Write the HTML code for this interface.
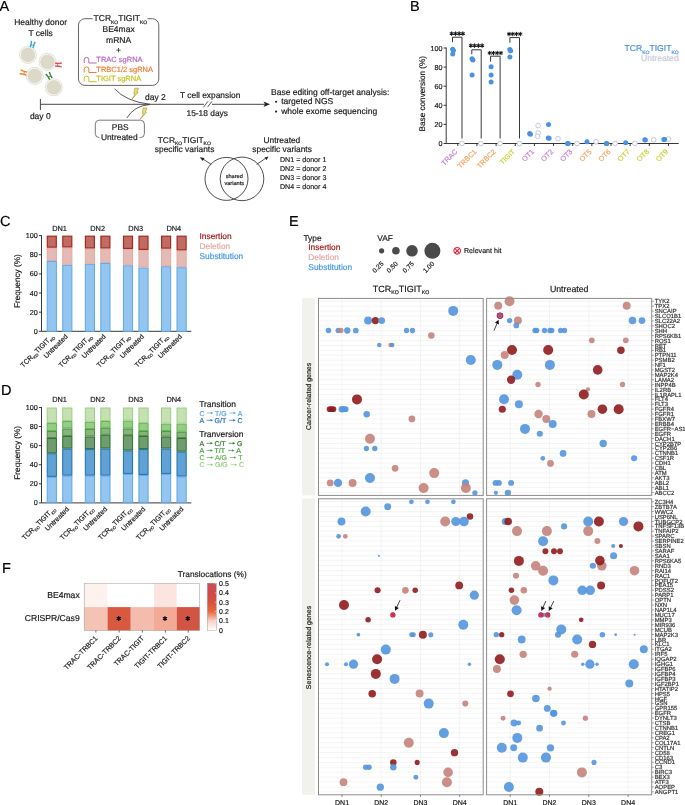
<!DOCTYPE html><html><head><meta charset="utf-8"><style>html,body{margin:0;padding:0;background:#fff;}svg{display:block;text-rendering:geometricPrecision;will-change:transform;}</style></head><body>
<svg width="685" height="805" viewBox="0 0 685 805" font-family='"Liberation Sans", sans-serif'>
<rect width="685" height="805" fill="#fff"/>
<text x="-0.60" y="10.80" font-size="14.5" fill="#000" stroke="#000" stroke-width="0.18" text-anchor="start" >A</text>
<text x="40.60" y="25.10" font-size="8.5" fill="#222" stroke="#222" stroke-width="0.18" text-anchor="middle" >Healthy donor</text>
<text x="40.60" y="35.60" font-size="8.5" fill="#222" stroke="#222" stroke-width="0.18" text-anchor="middle" >T cells</text>
<circle cx="27.95" cy="54.9" r="8.5" fill="#fcfcfa" stroke="#e3e3dc" stroke-width="1.1"/>
<circle cx="27.95" cy="54.9" r="6.9" fill="#dcd9c8" stroke="#cfcbbb" stroke-width="0.5"/>
<circle cx="47.5" cy="61.9" r="8.5" fill="#fcfcfa" stroke="#e3e3dc" stroke-width="1.1"/>
<circle cx="47.5" cy="61.9" r="6.9" fill="#dcd9c8" stroke="#cfcbbb" stroke-width="0.5"/>
<circle cx="34.8" cy="75.9" r="8.5" fill="#fcfcfa" stroke="#e3e3dc" stroke-width="1.1"/>
<circle cx="34.8" cy="75.9" r="6.9" fill="#dcd9c8" stroke="#cfcbbb" stroke-width="0.5"/>
<circle cx="53.8" cy="87.3" r="8.5" fill="#fcfcfa" stroke="#e3e3dc" stroke-width="1.1"/>
<circle cx="53.8" cy="87.3" r="6.9" fill="#dcd9c8" stroke="#cfcbbb" stroke-width="0.5"/>
<g transform="translate(32.5,44.5) rotate(15)" stroke="#3ba9d0" fill="none" stroke-linecap="butt"><path d="M-1.45,3.3 L-1.45,-0.6 L-2.0,-3.4 M1.45,3.3 L1.45,-0.6 L2.0,-3.4" stroke-width="1.45"/><path d="M-1.4,0.7 L1.4,0.7" stroke-width="0.8"/></g>
<g transform="translate(58.4,64.8) rotate(92)" stroke="#e2494c" fill="none" stroke-linecap="butt"><path d="M-1.45,3.3 L-1.45,-0.6 L-2.0,-3.4 M1.45,3.3 L1.45,-0.6 L2.0,-3.4" stroke-width="1.45"/><path d="M-1.4,0.7 L1.4,0.7" stroke-width="0.8"/></g>
<g transform="translate(23.5,72.7) rotate(-75)" stroke="#f0842a" fill="none" stroke-linecap="butt"><path d="M-1.45,3.3 L-1.45,-0.6 L-2.0,-3.4 M1.45,3.3 L1.45,-0.6 L2.0,-3.4" stroke-width="1.45"/><path d="M-1.4,0.7 L1.4,0.7" stroke-width="0.8"/></g>
<g transform="translate(49.3,76.0) rotate(-30)" stroke="#3d8535" fill="none" stroke-linecap="butt"><path d="M-1.45,3.3 L-1.45,-0.6 L-2.0,-3.4 M1.45,3.3 L1.45,-0.6 L2.0,-3.4" stroke-width="1.45"/><path d="M-1.4,0.7 L1.4,0.7" stroke-width="0.8"/></g>
<rect x="78.5" y="18.7" width="80.3" height="66.7" rx="6.5" fill="none" stroke="#555" stroke-width="0.9"/>
<rect x="92.6" y="12" width="55" height="10" fill="#fff"/>
<text x="120.4" y="21.2" font-size="8.5" fill="#1a1a1a" text-anchor="middle" stroke="#1a1a1a" stroke-width="0.18">TCR<tspan font-size="5.0" dy="2.3">KO</tspan><tspan dy="-2.3">TIGIT</tspan><tspan font-size="5.0" dy="2.3">KO</tspan></text>
<text x="118.60" y="32.40" font-size="8.5" fill="#1a1a1a" stroke="#1a1a1a" stroke-width="0.18" text-anchor="middle" >BE4max</text>
<text x="118.60" y="42.60" font-size="8.5" fill="#1a1a1a" stroke="#1a1a1a" stroke-width="0.18" text-anchor="middle" >mRNA</text>
<text x="118.60" y="52.60" font-size="8.5" fill="#1a1a1a" stroke="#1a1a1a" stroke-width="0.18" text-anchor="middle" >+</text>
<path d="M84.2,63.0 L84.2,59.7 Q84.2,57.4 86.5,57.4 Q88.8,57.4 88.8,59.7 L88.8,63.0 L96.6,63.0" fill="none" stroke="#b565c4" stroke-width="1"/>
<text x="96.30" y="62.00" font-size="7.5" fill="#b565c4" stroke="#b565c4" stroke-width="0.18" text-anchor="start" >TRAC sgRNA</text>
<path d="M84.2,72.5 L84.2,69.2 Q84.2,66.9 86.5,66.9 Q88.8,66.9 88.8,69.2 L88.8,72.5 L96.6,72.5" fill="none" stroke="#f07d2e" stroke-width="1"/>
<text x="96.30" y="71.50" font-size="7.5" fill="#f07d2e" stroke="#f07d2e" stroke-width="0.18" text-anchor="start" >TRBC1/2 sgRNA</text>
<path d="M84.2,81.7 L84.2,78.4 Q84.2,76.1 86.5,76.1 Q88.8,76.1 88.8,78.4 L88.8,81.7 L96.6,81.7" fill="none" stroke="#c4c41c" stroke-width="1"/>
<text x="96.30" y="80.70" font-size="7.5" fill="#c4c41c" stroke="#c4c41c" stroke-width="0.18" text-anchor="start" >TIGIT sgRNA</text>
<line x1="40.4" y1="104.3" x2="267" y2="104.3" stroke="#333" stroke-width="0.9"/>
<path d="M263.5,101.6 L270,104.3 L263.5,107 L265,104.3 Z" fill="#222"/>
<line x1="40.4" y1="99" x2="40.4" y2="110" stroke="#333" stroke-width="0.9"/>
<rect x="204" y="101" width="8" height="6.5" fill="#fff"/>
<line x1="203.5" y1="107.2" x2="208" y2="101.3" stroke="#333" stroke-width="0.8"/>
<line x1="207.5" y1="107.2" x2="212" y2="101.3" stroke="#333" stroke-width="0.8"/>
<path d="M114.6,88.8 Q126,101.5 150,104.3" fill="none" stroke="#333" stroke-width="0.8"/>
<path d="M126.9,118 Q134,106 149,104.6" fill="none" stroke="#333" stroke-width="0.8"/>
<path transform="translate(136.0,88.2)" d="M-1.3,0 L2.5,0 L0.9,3.9 L2.1,4.2 L-4.3,11.3 L-0.9,5.7 L-2.2,5.4 Z" fill="#eee06a" stroke="#7e7420" stroke-width="0.45" stroke-linejoin="round"/>
<path transform="translate(144.5,108.0)" d="M-1.3,0 L2.5,0 L0.9,3.9 L2.1,4.2 L-4.3,11.3 L-0.9,5.7 L-2.2,5.4 Z" fill="#eee06a" stroke="#7e7420" stroke-width="0.45" stroke-linejoin="round"/>
<text x="145.00" y="99.90" font-size="8.5" fill="#1a1a1a" stroke="#1a1a1a" stroke-width="0.18" text-anchor="start" >day 2</text>
<text x="29.90" y="119.00" font-size="8.5" fill="#1a1a1a" stroke="#1a1a1a" stroke-width="0.18" text-anchor="start" >day 0</text>
<text x="180.00" y="97.80" font-size="8.4" fill="#1a1a1a" stroke="#1a1a1a" stroke-width="0.18" text-anchor="start" >T cell expansion</text>
<text x="186.50" y="115.60" font-size="8.4" fill="#1a1a1a" stroke="#1a1a1a" stroke-width="0.18" text-anchor="start" >15-18 days</text>
<rect x="95.3" y="120.2" width="49.1" height="17.4" rx="4" fill="none" stroke="#555" stroke-width="0.8"/>
<rect x="99.5" y="134" width="40" height="7" fill="#fff"/>
<text x="120.20" y="129.50" font-size="8.4" fill="#1a1a1a" stroke="#1a1a1a" stroke-width="0.18" text-anchor="middle" >PBS</text>
<text x="119.30" y="140.20" font-size="8.4" fill="#1a1a1a" stroke="#1a1a1a" stroke-width="0.18" text-anchor="middle" >Untreated</text>
<text x="271.00" y="94.60" font-size="8.5" fill="#1a1a1a" stroke="#1a1a1a" stroke-width="0.18" text-anchor="start" >Base editing off-target analysis:</text>
<circle cx="276.1" cy="101.7" r="1.05" fill="#1a1a1a"/>
<text x="281.20" y="104.20" font-size="8.5" fill="#1a1a1a" stroke="#1a1a1a" stroke-width="0.18" text-anchor="start" >targeted NGS</text>
<circle cx="276.1" cy="111.6" r="1.05" fill="#1a1a1a"/>
<text x="281.20" y="114.20" font-size="8.5" fill="#1a1a1a" stroke="#1a1a1a" stroke-width="0.18" text-anchor="start" >whole exome sequencing</text>
<circle cx="226.5" cy="178.9" r="21.5" fill="none" stroke="#222" stroke-width="0.8"/>
<circle cx="242" cy="178.9" r="21.8" fill="none" stroke="#222" stroke-width="0.8"/>
<text x="234.20" y="178.30" font-size="5.6" fill="#1a1a1a" stroke="#1a1a1a" stroke-width="0.18" text-anchor="middle" >shared</text>
<text x="234.20" y="185.30" font-size="5.6" fill="#1a1a1a" stroke="#1a1a1a" stroke-width="0.18" text-anchor="middle" >variants</text>
<line x1="211.3" y1="164.4" x2="202.5" y2="158.8" stroke="#222" stroke-width="0.8"/>
<path d="M199.8,157.2 L204.5,157.9 L202.6,160.9 Z" fill="#222"/>
<line x1="256.6" y1="164.4" x2="265.8" y2="158.2" stroke="#222" stroke-width="0.8"/>
<path d="M268.4,156.5 L266.6,160.3 L264.6,157.4 Z" fill="#222"/>
<text x="184.3" y="142.9" font-size="8.4" fill="#1a1a1a" text-anchor="middle" stroke="#1a1a1a" stroke-width="0.18">TCR<tspan font-size="5.0" dy="2.3">KO</tspan><tspan dy="-2.3">TIGIT</tspan><tspan font-size="5.0" dy="2.3">KO</tspan></text>
<text x="184.60" y="152.10" font-size="8.4" fill="#1a1a1a" stroke="#1a1a1a" stroke-width="0.18" text-anchor="middle" >specific variants</text>
<text x="281.90" y="142.90" font-size="8.4" fill="#1a1a1a" stroke="#1a1a1a" stroke-width="0.18" text-anchor="middle" >Untreated</text>
<text x="282.10" y="152.10" font-size="8.4" fill="#1a1a1a" stroke="#1a1a1a" stroke-width="0.18" text-anchor="middle" >specific variants</text>
<text x="280.00" y="161.80" font-size="7.1" fill="#1a1a1a" stroke="#1a1a1a" stroke-width="0.18" text-anchor="start" >DN1 = donor 1</text>
<text x="280.00" y="170.70" font-size="7.1" fill="#1a1a1a" stroke="#1a1a1a" stroke-width="0.18" text-anchor="start" >DN2 = donor 2</text>
<text x="280.00" y="179.60" font-size="7.1" fill="#1a1a1a" stroke="#1a1a1a" stroke-width="0.18" text-anchor="start" >DN3 = donor 3</text>
<text x="280.00" y="188.50" font-size="7.1" fill="#1a1a1a" stroke="#1a1a1a" stroke-width="0.18" text-anchor="start" >DN4 = donor 4</text>
<text x="409.90" y="10.50" font-size="14.5" fill="#000" stroke="#000" stroke-width="0.18" text-anchor="start" >B</text>
<line x1="446.2" y1="47.5" x2="446.2" y2="143.5" stroke="#222" stroke-width="0.9"/>
<line x1="446.2" y1="143.5" x2="678.7" y2="143.5" stroke="#222" stroke-width="0.9"/>
<line x1="443.6" y1="143.50" x2="446.2" y2="143.50" stroke="#222" stroke-width="0.9"/>
<text x="442.60" y="146.05" font-size="7.2" fill="#1a1a1a" stroke="#1a1a1a" stroke-width="0.18" text-anchor="end" >0</text>
<line x1="443.6" y1="124.40" x2="446.2" y2="124.40" stroke="#222" stroke-width="0.9"/>
<text x="442.60" y="126.95" font-size="7.2" fill="#1a1a1a" stroke="#1a1a1a" stroke-width="0.18" text-anchor="end" >20</text>
<line x1="443.6" y1="105.30" x2="446.2" y2="105.30" stroke="#222" stroke-width="0.9"/>
<text x="442.60" y="107.85" font-size="7.2" fill="#1a1a1a" stroke="#1a1a1a" stroke-width="0.18" text-anchor="end" >40</text>
<line x1="443.6" y1="86.20" x2="446.2" y2="86.20" stroke="#222" stroke-width="0.9"/>
<text x="442.60" y="88.75" font-size="7.2" fill="#1a1a1a" stroke="#1a1a1a" stroke-width="0.18" text-anchor="end" >60</text>
<line x1="443.6" y1="67.10" x2="446.2" y2="67.10" stroke="#222" stroke-width="0.9"/>
<text x="442.60" y="69.65" font-size="7.2" fill="#1a1a1a" stroke="#1a1a1a" stroke-width="0.18" text-anchor="end" >80</text>
<line x1="443.6" y1="48.00" x2="446.2" y2="48.00" stroke="#222" stroke-width="0.9"/>
<text x="442.60" y="50.55" font-size="7.2" fill="#1a1a1a" stroke="#1a1a1a" stroke-width="0.18" text-anchor="end" >100</text>
<line x1="457.80" y1="143.5" x2="457.80" y2="146" stroke="#222" stroke-width="0.9"/>
<text transform="translate(458.00,152.1) rotate(-45)" font-size="7.2" fill="#c27fd0" text-anchor="end" stroke="#c27fd0" stroke-width="0.18">TRAC</text>
<line x1="476.95" y1="143.5" x2="476.95" y2="146" stroke="#222" stroke-width="0.9"/>
<text transform="translate(477.15,152.1) rotate(-45)" font-size="7.2" fill="#f5a35e" text-anchor="end" stroke="#f5a35e" stroke-width="0.18">TRBC1</text>
<line x1="496.10" y1="143.5" x2="496.10" y2="146" stroke="#222" stroke-width="0.9"/>
<text transform="translate(496.30,152.1) rotate(-45)" font-size="7.2" fill="#f5a35e" text-anchor="end" stroke="#f5a35e" stroke-width="0.18">TRBC2</text>
<line x1="515.25" y1="143.5" x2="515.25" y2="146" stroke="#222" stroke-width="0.9"/>
<text transform="translate(515.45,152.1) rotate(-45)" font-size="7.2" fill="#c9d031" text-anchor="end" stroke="#c9d031" stroke-width="0.18">TIGIT</text>
<line x1="534.40" y1="143.5" x2="534.40" y2="146" stroke="#222" stroke-width="0.9"/>
<text transform="translate(534.60,152.1) rotate(-45)" font-size="7.2" fill="#c27fd0" text-anchor="end" stroke="#c27fd0" stroke-width="0.18">OT1</text>
<line x1="553.55" y1="143.5" x2="553.55" y2="146" stroke="#222" stroke-width="0.9"/>
<text transform="translate(553.75,152.1) rotate(-45)" font-size="7.2" fill="#c27fd0" text-anchor="end" stroke="#c27fd0" stroke-width="0.18">OT2</text>
<line x1="572.70" y1="143.5" x2="572.70" y2="146" stroke="#222" stroke-width="0.9"/>
<text transform="translate(572.90,152.1) rotate(-45)" font-size="7.2" fill="#c27fd0" text-anchor="end" stroke="#c27fd0" stroke-width="0.18">OT3</text>
<line x1="591.85" y1="143.5" x2="591.85" y2="146" stroke="#222" stroke-width="0.9"/>
<text transform="translate(592.05,152.1) rotate(-45)" font-size="7.2" fill="#f5a35e" text-anchor="end" stroke="#f5a35e" stroke-width="0.18">OT5</text>
<line x1="611.00" y1="143.5" x2="611.00" y2="146" stroke="#222" stroke-width="0.9"/>
<text transform="translate(611.20,152.1) rotate(-45)" font-size="7.2" fill="#f5a35e" text-anchor="end" stroke="#f5a35e" stroke-width="0.18">OT6</text>
<line x1="630.15" y1="143.5" x2="630.15" y2="146" stroke="#222" stroke-width="0.9"/>
<text transform="translate(630.35,152.1) rotate(-45)" font-size="7.2" fill="#c9d031" text-anchor="end" stroke="#c9d031" stroke-width="0.18">OT7</text>
<line x1="649.30" y1="143.5" x2="649.30" y2="146" stroke="#222" stroke-width="0.9"/>
<text transform="translate(649.50,152.1) rotate(-45)" font-size="7.2" fill="#c9d031" text-anchor="end" stroke="#c9d031" stroke-width="0.18">OT8</text>
<line x1="668.45" y1="143.5" x2="668.45" y2="146" stroke="#222" stroke-width="0.9"/>
<text transform="translate(668.65,152.1) rotate(-45)" font-size="7.2" fill="#c9d031" text-anchor="end" stroke="#c9d031" stroke-width="0.18">OT9</text>
<text transform="translate(425,93.7) rotate(-90)" font-size="8.2" fill="#1a1a1a" text-anchor="middle" stroke="#1a1a1a" stroke-width="0.18">Base conversion (%)</text>
<path d="M452.5,42.2 L452.5,37.2 L462.0,37.2 L462.0,138.5" fill="none" stroke="#222" stroke-width="0.9"/>
<g transform="translate(451.62,33.60)" stroke="#111" stroke-width="1.05" stroke-linecap="round"><path d="M0,-1.75 L0,1.75 M-1.52,-0.88 L1.52,0.88 M-1.52,0.88 L1.52,-0.88"/></g>
<g transform="translate(455.38,33.60)" stroke="#111" stroke-width="1.05" stroke-linecap="round"><path d="M0,-1.75 L0,1.75 M-1.52,-0.88 L1.52,0.88 M-1.52,0.88 L1.52,-0.88"/></g>
<g transform="translate(459.12,33.60)" stroke="#111" stroke-width="1.05" stroke-linecap="round"><path d="M0,-1.75 L0,1.75 M-1.52,-0.88 L1.52,0.88 M-1.52,0.88 L1.52,-0.88"/></g>
<g transform="translate(462.88,33.60)" stroke="#111" stroke-width="1.05" stroke-linecap="round"><path d="M0,-1.75 L0,1.75 M-1.52,-0.88 L1.52,0.88 M-1.52,0.88 L1.52,-0.88"/></g>
<path d="M471.8,54.2 L471.8,49.8 L481.2,49.8 L481.2,138.5" fill="none" stroke="#222" stroke-width="0.9"/>
<g transform="translate(470.88,45.60)" stroke="#111" stroke-width="1.05" stroke-linecap="round"><path d="M0,-1.75 L0,1.75 M-1.52,-0.88 L1.52,0.88 M-1.52,0.88 L1.52,-0.88"/></g>
<g transform="translate(474.62,45.60)" stroke="#111" stroke-width="1.05" stroke-linecap="round"><path d="M0,-1.75 L0,1.75 M-1.52,-0.88 L1.52,0.88 M-1.52,0.88 L1.52,-0.88"/></g>
<g transform="translate(478.38,45.60)" stroke="#111" stroke-width="1.05" stroke-linecap="round"><path d="M0,-1.75 L0,1.75 M-1.52,-0.88 L1.52,0.88 M-1.52,0.88 L1.52,-0.88"/></g>
<g transform="translate(482.12,45.60)" stroke="#111" stroke-width="1.05" stroke-linecap="round"><path d="M0,-1.75 L0,1.75 M-1.52,-0.88 L1.52,0.88 M-1.52,0.88 L1.52,-0.88"/></g>
<path d="M490.6,61.7 L490.6,56.2 L500.1,56.2 L500.1,138.5" fill="none" stroke="#222" stroke-width="0.9"/>
<g transform="translate(489.73,53.00)" stroke="#111" stroke-width="1.05" stroke-linecap="round"><path d="M0,-1.75 L0,1.75 M-1.52,-0.88 L1.52,0.88 M-1.52,0.88 L1.52,-0.88"/></g>
<g transform="translate(493.48,53.00)" stroke="#111" stroke-width="1.05" stroke-linecap="round"><path d="M0,-1.75 L0,1.75 M-1.52,-0.88 L1.52,0.88 M-1.52,0.88 L1.52,-0.88"/></g>
<g transform="translate(497.23,53.00)" stroke="#111" stroke-width="1.05" stroke-linecap="round"><path d="M0,-1.75 L0,1.75 M-1.52,-0.88 L1.52,0.88 M-1.52,0.88 L1.52,-0.88"/></g>
<g transform="translate(500.98,53.00)" stroke="#111" stroke-width="1.05" stroke-linecap="round"><path d="M0,-1.75 L0,1.75 M-1.52,-0.88 L1.52,0.88 M-1.52,0.88 L1.52,-0.88"/></g>
<path d="M509.9,42.7 L509.9,37.6 L519.5,37.6 L519.5,138.5" fill="none" stroke="#222" stroke-width="0.9"/>
<g transform="translate(509.08,34.00)" stroke="#111" stroke-width="1.05" stroke-linecap="round"><path d="M0,-1.75 L0,1.75 M-1.52,-0.88 L1.52,0.88 M-1.52,0.88 L1.52,-0.88"/></g>
<g transform="translate(512.83,34.00)" stroke="#111" stroke-width="1.05" stroke-linecap="round"><path d="M0,-1.75 L0,1.75 M-1.52,-0.88 L1.52,0.88 M-1.52,0.88 L1.52,-0.88"/></g>
<g transform="translate(516.58,34.00)" stroke="#111" stroke-width="1.05" stroke-linecap="round"><path d="M0,-1.75 L0,1.75 M-1.52,-0.88 L1.52,0.88 M-1.52,0.88 L1.52,-0.88"/></g>
<g transform="translate(520.33,34.00)" stroke="#111" stroke-width="1.05" stroke-linecap="round"><path d="M0,-1.75 L0,1.75 M-1.52,-0.88 L1.52,0.88 M-1.52,0.88 L1.52,-0.88"/></g>
<circle cx="461.9" cy="143.5" r="2.35" fill="#fff" stroke="#c3c9dc" stroke-width="1"/>
<circle cx="480.9" cy="143.5" r="2.35" fill="#fff" stroke="#c3c9dc" stroke-width="1"/>
<circle cx="500.1" cy="143.5" r="2.35" fill="#fff" stroke="#c3c9dc" stroke-width="1"/>
<circle cx="519.5" cy="143.5" r="2.35" fill="#fff" stroke="#c3c9dc" stroke-width="1"/>
<circle cx="538.1" cy="125.6" r="2.35" fill="#fff" stroke="#c3c9dc" stroke-width="1"/>
<circle cx="538.1" cy="133.0" r="2.35" fill="#fff" stroke="#c3c9dc" stroke-width="1"/>
<circle cx="537.6" cy="136.3" r="2.35" fill="#fff" stroke="#c3c9dc" stroke-width="1"/>
<circle cx="558.0" cy="138.6" r="2.35" fill="#fff" stroke="#c3c9dc" stroke-width="1"/>
<circle cx="577.0" cy="143.5" r="2.35" fill="#fff" stroke="#c3c9dc" stroke-width="1"/>
<circle cx="596.1" cy="141.8" r="2.35" fill="#fff" stroke="#c3c9dc" stroke-width="1"/>
<circle cx="615.1" cy="143.5" r="2.35" fill="#fff" stroke="#c3c9dc" stroke-width="1"/>
<circle cx="634.8" cy="143.3" r="2.35" fill="#fff" stroke="#c3c9dc" stroke-width="1"/>
<circle cx="653.7" cy="139.7" r="2.35" fill="#fff" stroke="#c3c9dc" stroke-width="1"/>
<circle cx="668.4" cy="139.0" r="2.35" fill="#fff" stroke="#c3c9dc" stroke-width="1"/>
<circle cx="452.6" cy="49.3" r="2.5" fill="#4b91e1"/>
<circle cx="453.4" cy="50.6" r="2.5" fill="#4b91e1"/>
<circle cx="452.7" cy="54.0" r="2.5" fill="#4b91e1"/>
<circle cx="472.0" cy="58.8" r="2.5" fill="#4b91e1"/>
<circle cx="472.9" cy="59.9" r="2.5" fill="#4b91e1"/>
<circle cx="472.1" cy="74.9" r="2.5" fill="#4b91e1"/>
<circle cx="491.1" cy="66.8" r="2.5" fill="#4b91e1"/>
<circle cx="491.1" cy="75.0" r="2.5" fill="#4b91e1"/>
<circle cx="491.1" cy="82.1" r="2.5" fill="#4b91e1"/>
<circle cx="509.8" cy="49.4" r="2.5" fill="#4b91e1"/>
<circle cx="510.6" cy="50.8" r="2.5" fill="#4b91e1"/>
<circle cx="509.9" cy="57.0" r="2.5" fill="#4b91e1"/>
<circle cx="529.7" cy="133.4" r="2.5" fill="#4b91e1"/>
<circle cx="530.4" cy="134.3" r="2.5" fill="#4b91e1"/>
<circle cx="548.5" cy="124.6" r="2.5" fill="#4b91e1"/>
<circle cx="548.3" cy="137.9" r="2.5" fill="#4b91e1"/>
<circle cx="549.1" cy="138.3" r="2.5" fill="#4b91e1"/>
<circle cx="567.5" cy="143.4" r="2.5" fill="#4b91e1"/>
<circle cx="568.2" cy="143.4" r="2.5" fill="#4b91e1"/>
<circle cx="587.0" cy="141.8" r="2.5" fill="#4b91e1"/>
<circle cx="606.3" cy="143.4" r="2.5" fill="#4b91e1"/>
<circle cx="606.9" cy="143.4" r="2.5" fill="#4b91e1"/>
<circle cx="625.7" cy="142.8" r="2.5" fill="#4b91e1"/>
<circle cx="644.8" cy="139.7" r="2.5" fill="#4b91e1"/>
<circle cx="645.4" cy="139.9" r="2.5" fill="#4b91e1"/>
<circle cx="663.8" cy="139.4" r="2.5" fill="#4b91e1"/>
<circle cx="664.6" cy="139.6" r="2.5" fill="#4b91e1"/>
<text x="678.7" y="51.2" font-size="8.6" fill="#4a91e2" text-anchor="end" stroke="#4a91e2" stroke-width="0.18">TCR<tspan font-size="5.0" dy="2.3">KO</tspan><tspan dy="-2.3">TIGIT</tspan><tspan font-size="5.0" dy="2.3">KO</tspan></text>
<text x="678.70" y="61.30" font-size="8.6" fill="#c6cadb" stroke="#c6cadb" stroke-width="0.18" text-anchor="end" >Untreated</text>
<text x="-0.10" y="226.00" font-size="14.5" fill="#000" stroke="#000" stroke-width="0.18" text-anchor="start" >C</text>
<line x1="41.5" y1="235.20" x2="41.5" y2="331.30" stroke="#222" stroke-width="0.9"/>
<line x1="41.5" y1="331.30" x2="191.3" y2="331.30" stroke="#222" stroke-width="0.9"/>
<line x1="38.9" y1="331.30" x2="41.5" y2="331.30" stroke="#222" stroke-width="0.9"/>
<text x="37.80" y="333.85" font-size="7.2" fill="#1a1a1a" stroke="#1a1a1a" stroke-width="0.18" text-anchor="end" >0</text>
<line x1="38.9" y1="312.16" x2="41.5" y2="312.16" stroke="#222" stroke-width="0.9"/>
<text x="37.80" y="314.71" font-size="7.2" fill="#1a1a1a" stroke="#1a1a1a" stroke-width="0.18" text-anchor="end" >20</text>
<line x1="38.9" y1="293.02" x2="41.5" y2="293.02" stroke="#222" stroke-width="0.9"/>
<text x="37.80" y="295.57" font-size="7.2" fill="#1a1a1a" stroke="#1a1a1a" stroke-width="0.18" text-anchor="end" >40</text>
<line x1="38.9" y1="273.88" x2="41.5" y2="273.88" stroke="#222" stroke-width="0.9"/>
<text x="37.80" y="276.43" font-size="7.2" fill="#1a1a1a" stroke="#1a1a1a" stroke-width="0.18" text-anchor="end" >60</text>
<line x1="38.9" y1="254.74" x2="41.5" y2="254.74" stroke="#222" stroke-width="0.9"/>
<text x="37.80" y="257.29" font-size="7.2" fill="#1a1a1a" stroke="#1a1a1a" stroke-width="0.18" text-anchor="end" >80</text>
<line x1="38.9" y1="235.60" x2="41.5" y2="235.60" stroke="#222" stroke-width="0.9"/>
<text x="37.80" y="238.15" font-size="7.2" fill="#1a1a1a" stroke="#1a1a1a" stroke-width="0.18" text-anchor="end" >100</text>
<text transform="translate(20.4,281.20) rotate(-90)" font-size="8.2" fill="#1a1a1a" text-anchor="middle" stroke="#1a1a1a" stroke-width="0.18">Frequency (%)</text>
<text x="59.55" y="230.80" font-size="7.4" fill="#1a1a1a" stroke="#1a1a1a" stroke-width="0.18" text-anchor="middle" >DN1</text>
<text x="97.65" y="230.80" font-size="7.4" fill="#1a1a1a" stroke="#1a1a1a" stroke-width="0.18" text-anchor="middle" >DN2</text>
<text x="135.75" y="230.80" font-size="7.4" fill="#1a1a1a" stroke="#1a1a1a" stroke-width="0.18" text-anchor="middle" >DN3</text>
<text x="173.85" y="230.80" font-size="7.4" fill="#1a1a1a" stroke="#1a1a1a" stroke-width="0.18" text-anchor="middle" >DN4</text>
<rect x="47.20" y="261.46" width="9.20" height="69.84" fill="#93c5ef" stroke="#5ba8ec" stroke-width="1"/>
<rect x="47.20" y="248.25" width="9.20" height="12.21" fill="#e5bab4" stroke="#e2aaa3" stroke-width="1"/>
<rect x="47.30" y="236.20" width="9.00" height="10.95" fill="#bf6d63" stroke="#a9281f" stroke-width="1.2"/>
<rect x="62.70" y="265.38" width="9.20" height="65.92" fill="#93c5ef" stroke="#5ba8ec" stroke-width="1"/>
<rect x="62.70" y="247.97" width="9.20" height="16.42" fill="#e5bab4" stroke="#e2aaa3" stroke-width="1"/>
<rect x="62.80" y="236.20" width="9.00" height="10.67" fill="#bf6d63" stroke="#a9281f" stroke-width="1.2"/>
<rect x="85.30" y="264.33" width="9.20" height="66.97" fill="#93c5ef" stroke="#5ba8ec" stroke-width="1"/>
<rect x="85.30" y="249.02" width="9.20" height="14.31" fill="#e5bab4" stroke="#e2aaa3" stroke-width="1"/>
<rect x="85.40" y="236.20" width="9.00" height="11.72" fill="#bf6d63" stroke="#a9281f" stroke-width="1.2"/>
<rect x="100.80" y="263.47" width="9.20" height="67.83" fill="#93c5ef" stroke="#5ba8ec" stroke-width="1"/>
<rect x="100.80" y="249.02" width="9.20" height="13.45" fill="#e5bab4" stroke="#e2aaa3" stroke-width="1"/>
<rect x="100.90" y="236.20" width="9.00" height="11.72" fill="#bf6d63" stroke="#a9281f" stroke-width="1.2"/>
<rect x="123.40" y="265.77" width="9.20" height="65.53" fill="#93c5ef" stroke="#5ba8ec" stroke-width="1"/>
<rect x="123.40" y="249.50" width="9.20" height="15.27" fill="#e5bab4" stroke="#e2aaa3" stroke-width="1"/>
<rect x="123.50" y="236.20" width="9.00" height="12.20" fill="#bf6d63" stroke="#a9281f" stroke-width="1.2"/>
<rect x="138.90" y="267.97" width="9.20" height="63.33" fill="#93c5ef" stroke="#5ba8ec" stroke-width="1"/>
<rect x="138.90" y="250.45" width="9.20" height="16.51" fill="#e5bab4" stroke="#e2aaa3" stroke-width="1"/>
<rect x="139.00" y="236.20" width="9.00" height="13.15" fill="#bf6d63" stroke="#a9281f" stroke-width="1.2"/>
<rect x="161.50" y="266.72" width="9.20" height="64.58" fill="#93c5ef" stroke="#5ba8ec" stroke-width="1"/>
<rect x="161.50" y="249.21" width="9.20" height="16.51" fill="#e5bab4" stroke="#e2aaa3" stroke-width="1"/>
<rect x="161.60" y="236.20" width="9.00" height="11.91" fill="#bf6d63" stroke="#a9281f" stroke-width="1.2"/>
<rect x="177.00" y="267.68" width="9.20" height="63.62" fill="#93c5ef" stroke="#5ba8ec" stroke-width="1"/>
<rect x="177.00" y="250.93" width="9.20" height="15.75" fill="#e5bab4" stroke="#e2aaa3" stroke-width="1"/>
<rect x="177.10" y="236.20" width="9.00" height="13.63" fill="#bf6d63" stroke="#a9281f" stroke-width="1.2"/>
<text x="199.50" y="239.00" font-size="8.4" fill="#a3191b" stroke="#a3191b" stroke-width="0.18" text-anchor="start" >Insertion</text>
<text x="199.50" y="248.70" font-size="8.4" fill="#e3a9a4" stroke="#e3a9a4" stroke-width="0.18" text-anchor="start" >Deletion</text>
<text x="199.50" y="258.60" font-size="8.4" fill="#3f97e6" stroke="#3f97e6" stroke-width="0.18" text-anchor="start" >Substitution</text>
<text transform="translate(54.30,337.00) rotate(-45)" font-size="7" fill="#1a1a1a" text-anchor="end" stroke="#1a1a1a" stroke-width="0.18">TCR<tspan font-size="4" dy="1.8">KO</tspan><tspan dy="-1.8">TIGIT</tspan><tspan font-size="4" dy="1.8">KO</tspan></text>
<text transform="translate(68.20,337.00) rotate(-45)" font-size="7" fill="#1a1a1a" text-anchor="end" stroke="#1a1a1a" stroke-width="0.18">Untreated</text>
<text transform="translate(92.40,337.00) rotate(-45)" font-size="7" fill="#1a1a1a" text-anchor="end" stroke="#1a1a1a" stroke-width="0.18">TCR<tspan font-size="4" dy="1.8">KO</tspan><tspan dy="-1.8">TIGIT</tspan><tspan font-size="4" dy="1.8">KO</tspan></text>
<text transform="translate(106.30,337.00) rotate(-45)" font-size="7" fill="#1a1a1a" text-anchor="end" stroke="#1a1a1a" stroke-width="0.18">Untreated</text>
<text transform="translate(130.50,337.00) rotate(-45)" font-size="7" fill="#1a1a1a" text-anchor="end" stroke="#1a1a1a" stroke-width="0.18">TCR<tspan font-size="4" dy="1.8">KO</tspan><tspan dy="-1.8">TIGIT</tspan><tspan font-size="4" dy="1.8">KO</tspan></text>
<text transform="translate(144.40,337.00) rotate(-45)" font-size="7" fill="#1a1a1a" text-anchor="end" stroke="#1a1a1a" stroke-width="0.18">Untreated</text>
<text transform="translate(168.60,337.00) rotate(-45)" font-size="7" fill="#1a1a1a" text-anchor="end" stroke="#1a1a1a" stroke-width="0.18">TCR<tspan font-size="4" dy="1.8">KO</tspan><tspan dy="-1.8">TIGIT</tspan><tspan font-size="4" dy="1.8">KO</tspan></text>
<text transform="translate(182.50,337.00) rotate(-45)" font-size="7" fill="#1a1a1a" text-anchor="end" stroke="#1a1a1a" stroke-width="0.18">Untreated</text>
<text x="0.90" y="394.70" font-size="14.5" fill="#000" stroke="#000" stroke-width="0.18" text-anchor="start" >D</text>
<line x1="41.5" y1="407.10" x2="41.5" y2="502.90" stroke="#222" stroke-width="0.9"/>
<line x1="41.5" y1="502.90" x2="191.3" y2="502.90" stroke="#222" stroke-width="0.9"/>
<line x1="38.9" y1="502.90" x2="41.5" y2="502.90" stroke="#222" stroke-width="0.9"/>
<text x="37.80" y="505.45" font-size="7.2" fill="#1a1a1a" stroke="#1a1a1a" stroke-width="0.18" text-anchor="end" >0</text>
<line x1="38.9" y1="483.82" x2="41.5" y2="483.82" stroke="#222" stroke-width="0.9"/>
<text x="37.80" y="486.37" font-size="7.2" fill="#1a1a1a" stroke="#1a1a1a" stroke-width="0.18" text-anchor="end" >20</text>
<line x1="38.9" y1="464.74" x2="41.5" y2="464.74" stroke="#222" stroke-width="0.9"/>
<text x="37.80" y="467.29" font-size="7.2" fill="#1a1a1a" stroke="#1a1a1a" stroke-width="0.18" text-anchor="end" >40</text>
<line x1="38.9" y1="445.66" x2="41.5" y2="445.66" stroke="#222" stroke-width="0.9"/>
<text x="37.80" y="448.21" font-size="7.2" fill="#1a1a1a" stroke="#1a1a1a" stroke-width="0.18" text-anchor="end" >60</text>
<line x1="38.9" y1="426.58" x2="41.5" y2="426.58" stroke="#222" stroke-width="0.9"/>
<text x="37.80" y="429.13" font-size="7.2" fill="#1a1a1a" stroke="#1a1a1a" stroke-width="0.18" text-anchor="end" >80</text>
<line x1="38.9" y1="407.50" x2="41.5" y2="407.50" stroke="#222" stroke-width="0.9"/>
<text x="37.80" y="410.05" font-size="7.2" fill="#1a1a1a" stroke="#1a1a1a" stroke-width="0.18" text-anchor="end" >100</text>
<text transform="translate(20.4,452.80) rotate(-90)" font-size="8.2" fill="#1a1a1a" text-anchor="middle" stroke="#1a1a1a" stroke-width="0.18">Frequency (%)</text>
<text x="59.55" y="402.10" font-size="7.4" fill="#1a1a1a" stroke="#1a1a1a" stroke-width="0.18" text-anchor="middle" >DN1</text>
<text x="97.65" y="402.10" font-size="7.4" fill="#1a1a1a" stroke="#1a1a1a" stroke-width="0.18" text-anchor="middle" >DN2</text>
<text x="135.75" y="402.10" font-size="7.4" fill="#1a1a1a" stroke="#1a1a1a" stroke-width="0.18" text-anchor="middle" >DN3</text>
<text x="173.85" y="402.10" font-size="7.4" fill="#1a1a1a" stroke="#1a1a1a" stroke-width="0.18" text-anchor="middle" >DN4</text>
<rect x="47.20" y="477.36" width="9.20" height="25.04" fill="#93c5ef" stroke="#5ba8ec" stroke-width="1"/>
<rect x="47.20" y="453.79" width="9.20" height="22.56" fill="#5fa2d3" stroke="#1f6fb4" stroke-width="1"/>
<rect x="47.20" y="438.53" width="9.20" height="14.26" fill="#6f9d70" stroke="#2d6e2f" stroke-width="1"/>
<rect x="47.20" y="431.56" width="9.20" height="5.96" fill="#8ab47d" stroke="#46923f" stroke-width="1"/>
<rect x="47.20" y="423.55" width="9.20" height="7.01" fill="#98cc86" stroke="#5fb552" stroke-width="1"/>
<rect x="47.20" y="408.00" width="9.20" height="14.55" fill="#c6e0b2" stroke="#9ccf86" stroke-width="1"/>
<rect x="62.70" y="476.12" width="9.20" height="26.28" fill="#93c5ef" stroke="#5ba8ec" stroke-width="1"/>
<rect x="62.70" y="449.12" width="9.20" height="26.00" fill="#5fa2d3" stroke="#1f6fb4" stroke-width="1"/>
<rect x="62.70" y="436.43" width="9.20" height="11.69" fill="#6f9d70" stroke="#2d6e2f" stroke-width="1"/>
<rect x="62.70" y="428.99" width="9.20" height="6.44" fill="#8ab47d" stroke="#46923f" stroke-width="1"/>
<rect x="62.70" y="421.55" width="9.20" height="6.44" fill="#98cc86" stroke="#5fb552" stroke-width="1"/>
<rect x="62.70" y="408.00" width="9.20" height="12.55" fill="#c6e0b2" stroke="#9ccf86" stroke-width="1"/>
<rect x="85.30" y="476.12" width="9.20" height="26.28" fill="#93c5ef" stroke="#5ba8ec" stroke-width="1"/>
<rect x="85.30" y="449.59" width="9.20" height="25.52" fill="#5fa2d3" stroke="#1f6fb4" stroke-width="1"/>
<rect x="85.30" y="437.00" width="9.20" height="11.59" fill="#6f9d70" stroke="#2d6e2f" stroke-width="1"/>
<rect x="85.30" y="429.56" width="9.20" height="6.44" fill="#8ab47d" stroke="#46923f" stroke-width="1"/>
<rect x="85.30" y="422.31" width="9.20" height="6.25" fill="#98cc86" stroke="#5fb552" stroke-width="1"/>
<rect x="85.30" y="408.00" width="9.20" height="13.31" fill="#c6e0b2" stroke="#9ccf86" stroke-width="1"/>
<rect x="100.80" y="476.12" width="9.20" height="26.28" fill="#93c5ef" stroke="#5ba8ec" stroke-width="1"/>
<rect x="100.80" y="449.02" width="9.20" height="26.09" fill="#5fa2d3" stroke="#1f6fb4" stroke-width="1"/>
<rect x="100.80" y="435.28" width="9.20" height="12.74" fill="#6f9d70" stroke="#2d6e2f" stroke-width="1"/>
<rect x="100.80" y="428.22" width="9.20" height="6.06" fill="#8ab47d" stroke="#46923f" stroke-width="1"/>
<rect x="100.80" y="421.55" width="9.20" height="5.68" fill="#98cc86" stroke="#5fb552" stroke-width="1"/>
<rect x="100.80" y="408.00" width="9.20" height="12.55" fill="#c6e0b2" stroke="#9ccf86" stroke-width="1"/>
<rect x="123.40" y="474.40" width="9.20" height="28.00" fill="#93c5ef" stroke="#5ba8ec" stroke-width="1"/>
<rect x="123.40" y="450.93" width="9.20" height="22.47" fill="#5fa2d3" stroke="#1f6fb4" stroke-width="1"/>
<rect x="123.40" y="435.67" width="9.20" height="14.26" fill="#6f9d70" stroke="#2d6e2f" stroke-width="1"/>
<rect x="123.40" y="428.99" width="9.20" height="5.68" fill="#8ab47d" stroke="#46923f" stroke-width="1"/>
<rect x="123.40" y="421.07" width="9.20" height="6.92" fill="#98cc86" stroke="#5fb552" stroke-width="1"/>
<rect x="123.40" y="408.00" width="9.20" height="12.07" fill="#c6e0b2" stroke="#9ccf86" stroke-width="1"/>
<rect x="138.90" y="475.45" width="9.20" height="26.95" fill="#93c5ef" stroke="#5ba8ec" stroke-width="1"/>
<rect x="138.90" y="449.59" width="9.20" height="24.85" fill="#5fa2d3" stroke="#1f6fb4" stroke-width="1"/>
<rect x="138.90" y="436.43" width="9.20" height="12.17" fill="#6f9d70" stroke="#2d6e2f" stroke-width="1"/>
<rect x="138.90" y="431.56" width="9.20" height="3.87" fill="#8ab47d" stroke="#46923f" stroke-width="1"/>
<rect x="138.90" y="423.36" width="9.20" height="7.20" fill="#98cc86" stroke="#5fb552" stroke-width="1"/>
<rect x="138.90" y="408.00" width="9.20" height="14.36" fill="#c6e0b2" stroke="#9ccf86" stroke-width="1"/>
<rect x="161.50" y="474.40" width="9.20" height="28.00" fill="#93c5ef" stroke="#5ba8ec" stroke-width="1"/>
<rect x="161.50" y="449.02" width="9.20" height="24.38" fill="#5fa2d3" stroke="#1f6fb4" stroke-width="1"/>
<rect x="161.50" y="437.19" width="9.20" height="10.83" fill="#6f9d70" stroke="#2d6e2f" stroke-width="1"/>
<rect x="161.50" y="431.56" width="9.20" height="4.63" fill="#8ab47d" stroke="#46923f" stroke-width="1"/>
<rect x="161.50" y="424.12" width="9.20" height="6.44" fill="#98cc86" stroke="#5fb552" stroke-width="1"/>
<rect x="161.50" y="408.00" width="9.20" height="15.12" fill="#c6e0b2" stroke="#9ccf86" stroke-width="1"/>
<rect x="177.00" y="476.97" width="9.20" height="25.43" fill="#93c5ef" stroke="#5ba8ec" stroke-width="1"/>
<rect x="177.00" y="452.07" width="9.20" height="23.90" fill="#5fa2d3" stroke="#1f6fb4" stroke-width="1"/>
<rect x="177.00" y="438.53" width="9.20" height="12.55" fill="#6f9d70" stroke="#2d6e2f" stroke-width="1"/>
<rect x="177.00" y="432.23" width="9.20" height="5.30" fill="#8ab47d" stroke="#46923f" stroke-width="1"/>
<rect x="177.00" y="424.12" width="9.20" height="7.11" fill="#98cc86" stroke="#5fb552" stroke-width="1"/>
<rect x="177.00" y="408.00" width="9.20" height="15.12" fill="#c6e0b2" stroke="#9ccf86" stroke-width="1"/>
<text x="199.20" y="406.60" font-size="8.45" fill="#1a1a1a" stroke="#1a1a1a" stroke-width="0.18" text-anchor="start" >Transition</text>
<text x="199.50" y="415.50" font-size="7.0" fill="#52a6ea" stroke="#52a6ea" stroke-width="0.18" text-anchor="start" >C</text>
<line x1="206.96" y1="413.00" x2="211.56" y2="413.00" stroke="#52a6ea" stroke-width="0.7"/>
<path d="M213.36,413.00 L210.96,411.75 L210.96,414.25 Z" fill="#52a6ea"/>
<text x="214.96" y="415.50" font-size="7.0" fill="#52a6ea" stroke="#52a6ea" stroke-width="0.18" text-anchor="start" >T/G</text>
<line x1="229.62" y1="413.00" x2="234.22" y2="413.00" stroke="#52a6ea" stroke-width="0.7"/>
<path d="M236.02,413.00 L233.62,411.75 L233.62,414.25 Z" fill="#52a6ea"/>
<text x="237.82" y="415.50" font-size="7.0" fill="#52a6ea" stroke="#52a6ea" stroke-width="0.18" text-anchor="start" >A</text>
<text x="199.50" y="422.80" font-size="7.0" fill="#1c6fbf" stroke="#1c6fbf" stroke-width="0.18" text-anchor="start" >A</text>
<line x1="206.57" y1="420.30" x2="211.17" y2="420.30" stroke="#1c6fbf" stroke-width="0.7"/>
<path d="M212.97,420.30 L210.57,419.05 L210.57,421.55 Z" fill="#1c6fbf"/>
<text x="214.57" y="422.80" font-size="7.0" fill="#1c6fbf" stroke="#1c6fbf" stroke-width="0.18" text-anchor="start" >G/T</text>
<line x1="229.23" y1="420.30" x2="233.83" y2="420.30" stroke="#1c6fbf" stroke-width="0.7"/>
<path d="M235.63,420.30 L233.23,419.05 L233.23,421.55 Z" fill="#1c6fbf"/>
<text x="237.43" y="422.80" font-size="7.0" fill="#1c6fbf" stroke="#1c6fbf" stroke-width="0.18" text-anchor="start" >C</text>
<text x="199.20" y="436.50" font-size="8.45" fill="#1a1a1a" stroke="#1a1a1a" stroke-width="0.18" text-anchor="start" >Tranversion</text>
<text x="199.50" y="445.80" font-size="7.0" fill="#2a7a2a" stroke="#2a7a2a" stroke-width="0.18" text-anchor="start" >A</text>
<line x1="206.57" y1="443.30" x2="211.17" y2="443.30" stroke="#2a7a2a" stroke-width="0.7"/>
<path d="M212.97,443.30 L210.57,442.05 L210.57,444.55 Z" fill="#2a7a2a"/>
<text x="214.57" y="445.80" font-size="7.0" fill="#2a7a2a" stroke="#2a7a2a" stroke-width="0.18" text-anchor="start" >C/T</text>
<line x1="228.84" y1="443.30" x2="233.44" y2="443.30" stroke="#2a7a2a" stroke-width="0.7"/>
<path d="M235.24,443.30 L232.84,442.05 L232.84,444.55 Z" fill="#2a7a2a"/>
<text x="237.04" y="445.80" font-size="7.0" fill="#2a7a2a" stroke="#2a7a2a" stroke-width="0.18" text-anchor="start" >G</text>
<text x="199.50" y="452.90" font-size="7.0" fill="#3f9a38" stroke="#3f9a38" stroke-width="0.18" text-anchor="start" >A</text>
<line x1="206.57" y1="450.40" x2="211.17" y2="450.40" stroke="#3f9a38" stroke-width="0.7"/>
<path d="M212.97,450.40 L210.57,449.15 L210.57,451.65 Z" fill="#3f9a38"/>
<text x="214.57" y="452.90" font-size="7.0" fill="#3f9a38" stroke="#3f9a38" stroke-width="0.18" text-anchor="start" >T/T</text>
<line x1="228.07" y1="450.40" x2="232.67" y2="450.40" stroke="#3f9a38" stroke-width="0.7"/>
<path d="M234.47,450.40 L232.07,449.15 L232.07,451.65 Z" fill="#3f9a38"/>
<text x="236.27" y="452.90" font-size="7.0" fill="#3f9a38" stroke="#3f9a38" stroke-width="0.18" text-anchor="start" >A</text>
<text x="199.50" y="460.00" font-size="7.0" fill="#5ab64c" stroke="#5ab64c" stroke-width="0.18" text-anchor="start" >C</text>
<line x1="206.96" y1="457.50" x2="211.56" y2="457.50" stroke="#5ab64c" stroke-width="0.7"/>
<path d="M213.36,457.50 L210.96,456.25 L210.96,458.75 Z" fill="#5ab64c"/>
<text x="214.96" y="460.00" font-size="7.0" fill="#5ab64c" stroke="#5ab64c" stroke-width="0.18" text-anchor="start" >A/G</text>
<line x1="230.01" y1="457.50" x2="234.61" y2="457.50" stroke="#5ab64c" stroke-width="0.7"/>
<path d="M236.41,457.50 L234.01,456.25 L234.01,458.75 Z" fill="#5ab64c"/>
<text x="238.21" y="460.00" font-size="7.0" fill="#5ab64c" stroke="#5ab64c" stroke-width="0.18" text-anchor="start" >T</text>
<text x="199.50" y="467.20" font-size="7.0" fill="#98cf84" stroke="#98cf84" stroke-width="0.18" text-anchor="start" >C</text>
<line x1="206.96" y1="464.70" x2="211.56" y2="464.70" stroke="#98cf84" stroke-width="0.7"/>
<path d="M213.36,464.70 L210.96,463.45 L210.96,465.95 Z" fill="#98cf84"/>
<text x="214.96" y="467.20" font-size="7.0" fill="#98cf84" stroke="#98cf84" stroke-width="0.18" text-anchor="start" >G/G</text>
<line x1="230.79" y1="464.70" x2="235.39" y2="464.70" stroke="#98cf84" stroke-width="0.7"/>
<path d="M237.19,464.70 L234.79,463.45 L234.79,465.95 Z" fill="#98cf84"/>
<text x="238.99" y="467.20" font-size="7.0" fill="#98cf84" stroke="#98cf84" stroke-width="0.18" text-anchor="start" >C</text>
<text transform="translate(55.70,509.60) rotate(-45)" font-size="7" fill="#1a1a1a" text-anchor="end" stroke="#1a1a1a" stroke-width="0.18">TCR<tspan font-size="4" dy="1.8">KO</tspan><tspan dy="-1.8">TIGIT</tspan><tspan font-size="4" dy="1.8">KO</tspan></text>
<text transform="translate(69.60,509.60) rotate(-45)" font-size="7" fill="#1a1a1a" text-anchor="end" stroke="#1a1a1a" stroke-width="0.18">Untreated</text>
<text transform="translate(93.80,509.60) rotate(-45)" font-size="7" fill="#1a1a1a" text-anchor="end" stroke="#1a1a1a" stroke-width="0.18">TCR<tspan font-size="4" dy="1.8">KO</tspan><tspan dy="-1.8">TIGIT</tspan><tspan font-size="4" dy="1.8">KO</tspan></text>
<text transform="translate(107.70,509.60) rotate(-45)" font-size="7" fill="#1a1a1a" text-anchor="end" stroke="#1a1a1a" stroke-width="0.18">Untreated</text>
<text transform="translate(131.90,509.60) rotate(-45)" font-size="7" fill="#1a1a1a" text-anchor="end" stroke="#1a1a1a" stroke-width="0.18">TCR<tspan font-size="4" dy="1.8">KO</tspan><tspan dy="-1.8">TIGIT</tspan><tspan font-size="4" dy="1.8">KO</tspan></text>
<text transform="translate(145.80,509.60) rotate(-45)" font-size="7" fill="#1a1a1a" text-anchor="end" stroke="#1a1a1a" stroke-width="0.18">Untreated</text>
<text transform="translate(170.00,509.60) rotate(-45)" font-size="7" fill="#1a1a1a" text-anchor="end" stroke="#1a1a1a" stroke-width="0.18">TCR<tspan font-size="4" dy="1.8">KO</tspan><tspan dy="-1.8">TIGIT</tspan><tspan font-size="4" dy="1.8">KO</tspan></text>
<text transform="translate(183.90,509.60) rotate(-45)" font-size="7" fill="#1a1a1a" text-anchor="end" stroke="#1a1a1a" stroke-width="0.18">Untreated</text>
<text x="1.90" y="573.20" font-size="14.5" fill="#000" stroke="#000" stroke-width="0.18" text-anchor="start" >F</text>
<rect x="84.2" y="583.7" width="23.50" height="23.50" fill="#fef2ef"/>
<rect x="107.6" y="583.7" width="23.20" height="23.50" fill="#ffffff"/>
<rect x="130.7" y="583.7" width="23.40" height="23.50" fill="#ffffff"/>
<rect x="154.0" y="583.7" width="22.90" height="23.50" fill="#fce5e0"/>
<rect x="176.8" y="583.7" width="22.90" height="23.50" fill="#ffffff"/>
<rect x="84.2" y="607.1" width="23.50" height="23.40" fill="#f4c3b4"/>
<rect x="107.6" y="607.1" width="23.20" height="23.40" fill="#d85840"/>
<rect x="130.7" y="607.1" width="23.40" height="23.40" fill="#f4bcac"/>
<rect x="154.0" y="607.1" width="22.90" height="23.40" fill="#f2aa97"/>
<rect x="176.8" y="607.1" width="22.90" height="23.40" fill="#d15542"/>
<rect x="84.2" y="583.7" width="115.4" height="46.7" fill="none" stroke="#999" stroke-width="0.5"/>
<g transform="translate(118.75,618.6)" stroke="#000" stroke-width="1.25" stroke-linecap="round"><path d="M0,-1.9 L0,1.9 M-1.65,-0.95 L1.65,0.95 M-1.65,0.95 L1.65,-0.95"/></g>
<g transform="translate(165.00,618.6)" stroke="#000" stroke-width="1.25" stroke-linecap="round"><path d="M0,-1.9 L0,1.9 M-1.65,-0.95 L1.65,0.95 M-1.65,0.95 L1.65,-0.95"/></g>
<g transform="translate(187.80,618.6)" stroke="#000" stroke-width="1.25" stroke-linecap="round"><path d="M0,-1.9 L0,1.9 M-1.65,-0.95 L1.65,0.95 M-1.65,0.95 L1.65,-0.95"/></g>
<text x="79.70" y="597.80" font-size="8.6" fill="#1a1a1a" stroke="#1a1a1a" stroke-width="0.18" text-anchor="end" >BE4max</text>
<text x="79.70" y="620.70" font-size="8.6" fill="#1a1a1a" stroke="#1a1a1a" stroke-width="0.18" text-anchor="end" >CRISPR/Cas9</text>
<line x1="95.90" y1="630.4" x2="95.90" y2="632.6" stroke="#333" stroke-width="0.7"/>
<text transform="translate(98.10,638.8) rotate(-45)" font-size="7" fill="#1a1a1a" text-anchor="end" stroke="#1a1a1a" stroke-width="0.18">TRAC-TRBC1</text>
<line x1="119.15" y1="630.4" x2="119.15" y2="632.6" stroke="#333" stroke-width="0.7"/>
<text transform="translate(121.35,638.8) rotate(-45)" font-size="7" fill="#1a1a1a" text-anchor="end" stroke="#1a1a1a" stroke-width="0.18">TRAC-TRBC2</text>
<line x1="142.35" y1="630.4" x2="142.35" y2="632.6" stroke="#333" stroke-width="0.7"/>
<text transform="translate(144.55,638.8) rotate(-45)" font-size="7" fill="#1a1a1a" text-anchor="end" stroke="#1a1a1a" stroke-width="0.18">TRAC-TIGIT</text>
<line x1="165.40" y1="630.4" x2="165.40" y2="632.6" stroke="#333" stroke-width="0.7"/>
<text transform="translate(167.60,638.8) rotate(-45)" font-size="7" fill="#1a1a1a" text-anchor="end" stroke="#1a1a1a" stroke-width="0.18">TIGIT-TRBC1</text>
<line x1="188.20" y1="630.4" x2="188.20" y2="632.6" stroke="#333" stroke-width="0.7"/>
<text transform="translate(190.40,638.8) rotate(-45)" font-size="7" fill="#1a1a1a" text-anchor="end" stroke="#1a1a1a" stroke-width="0.18">TIGIT-TRBC2</text>
<defs><linearGradient id="cb" x1="0" y1="1" x2="0" y2="0"><stop offset="0" stop-color="#ffffff"/><stop offset="0.2" stop-color="#f7d2c9"/><stop offset="0.4" stop-color="#e8683e"/><stop offset="0.6" stop-color="#d8503e"/><stop offset="0.8" stop-color="#cf4a48"/><stop offset="1" stop-color="#c9505a"/></linearGradient></defs>
<rect x="207.4" y="583.2" width="8.8" height="47.2" fill="url(#cb)" stroke="#888" stroke-width="0.4"/>
<line x1="214.6" y1="630.00" x2="216.2" y2="630.00" stroke="#fff" stroke-width="0.5"/>
<text x="219.10" y="632.50" font-size="7" fill="#1a1a1a" stroke="#1a1a1a" stroke-width="0.18" text-anchor="start" >0</text>
<line x1="214.6" y1="620.74" x2="216.2" y2="620.74" stroke="#fff" stroke-width="0.5"/>
<text x="219.10" y="623.24" font-size="7" fill="#1a1a1a" stroke="#1a1a1a" stroke-width="0.18" text-anchor="start" >0.1</text>
<line x1="214.6" y1="611.48" x2="216.2" y2="611.48" stroke="#fff" stroke-width="0.5"/>
<text x="219.10" y="613.98" font-size="7" fill="#1a1a1a" stroke="#1a1a1a" stroke-width="0.18" text-anchor="start" >0.2</text>
<line x1="214.6" y1="602.22" x2="216.2" y2="602.22" stroke="#fff" stroke-width="0.5"/>
<text x="219.10" y="604.72" font-size="7" fill="#1a1a1a" stroke="#1a1a1a" stroke-width="0.18" text-anchor="start" >0.3</text>
<line x1="214.6" y1="592.96" x2="216.2" y2="592.96" stroke="#fff" stroke-width="0.5"/>
<text x="219.10" y="595.46" font-size="7" fill="#1a1a1a" stroke="#1a1a1a" stroke-width="0.18" text-anchor="start" >0.4</text>
<line x1="214.6" y1="583.70" x2="216.2" y2="583.70" stroke="#fff" stroke-width="0.5"/>
<text x="219.10" y="586.20" font-size="7" fill="#1a1a1a" stroke="#1a1a1a" stroke-width="0.18" text-anchor="start" >0.5</text>
<text x="177.80" y="576.80" font-size="8.3" fill="#1a1a1a" stroke="#1a1a1a" stroke-width="0.18" text-anchor="start" >Translocations (%)</text>
<text x="288.90" y="225.90" font-size="14.5" fill="#000" stroke="#000" stroke-width="0.18" text-anchor="start" >E</text>
<text x="303.40" y="240.60" font-size="8.4" fill="#1a1a1a" stroke="#1a1a1a" stroke-width="0.18" text-anchor="start" >Type</text>
<text x="308.30" y="250.30" font-size="8.4" fill="#a3191b" stroke="#a3191b" stroke-width="0.18" text-anchor="start" >Insertion</text>
<text x="308.30" y="260.20" font-size="8.4" fill="#e3a9a4" stroke="#e3a9a4" stroke-width="0.18" text-anchor="start" >Deletion</text>
<text x="308.30" y="269.80" font-size="8.4" fill="#3f97e6" stroke="#3f97e6" stroke-width="0.18" text-anchor="start" >Substitution</text>
<text x="377.20" y="240.90" font-size="8.4" fill="#1a1a1a" stroke="#1a1a1a" stroke-width="0.18" text-anchor="start" >VAF</text>
<circle cx="381.6" cy="250.8" r="2.6" fill="#4a4a4a"/>
<text transform="translate(384.00,264.2) rotate(-45)" font-size="6.6" fill="#1a1a1a" text-anchor="end" stroke="#1a1a1a" stroke-width="0.18">0.25</text>
<circle cx="395.9" cy="250.8" r="3.8" fill="#4a4a4a"/>
<text transform="translate(398.30,264.2) rotate(-45)" font-size="6.6" fill="#1a1a1a" text-anchor="end" stroke="#1a1a1a" stroke-width="0.18">0.50</text>
<circle cx="412.0" cy="250.8" r="5.8" fill="#4a4a4a"/>
<text transform="translate(414.40,264.2) rotate(-45)" font-size="6.6" fill="#1a1a1a" text-anchor="end" stroke="#1a1a1a" stroke-width="0.18">0.75</text>
<circle cx="432.4" cy="250.8" r="8.0" fill="#4a4a4a"/>
<text transform="translate(434.80,264.2) rotate(-45)" font-size="6.6" fill="#1a1a1a" text-anchor="end" stroke="#1a1a1a" stroke-width="0.18">1.00</text>
<g transform="translate(457.2,250.8)"><circle r="3.3" fill="none" stroke="#e1213a" stroke-width="1.1"/><path d="M-2.2,-2.2 L2.2,2.2 M-2.2,2.2 L2.2,-2.2" stroke="#e1213a" stroke-width="1.1"/></g>
<text x="464.00" y="253.40" font-size="7.1" fill="#1a1a1a" stroke="#1a1a1a" stroke-width="0.18" text-anchor="start" >Relevant hit</text>
<text x="401" y="291.7" font-size="9" fill="#1a1a1a" stroke="#1a1a1a" stroke-width="0.18" text-anchor="middle">TCR<tspan font-size="5.2" dy="2.4">KO</tspan><tspan dy="-2.4">TIGIT</tspan><tspan font-size="5.2" dy="2.4">KO</tspan></text>
<text x="569.20" y="291.70" font-size="8.8" fill="#1a1a1a" stroke="#1a1a1a" stroke-width="0.18" text-anchor="middle" >Untreated</text>
<rect x="302" y="298.20" width="13" height="197.20" fill="#f2f2ec"/>
<rect x="318.5" y="298.4" width="164.70" height="197.00" fill="#fff"/>
<line x1="318.5" y1="301.34" x2="483.2" y2="301.34" stroke="#ececec" stroke-width="0.6"/>
<line x1="318.5" y1="306.24" x2="483.2" y2="306.24" stroke="#ececec" stroke-width="0.6"/>
<line x1="318.5" y1="311.14" x2="483.2" y2="311.14" stroke="#ececec" stroke-width="0.6"/>
<line x1="318.5" y1="316.04" x2="483.2" y2="316.04" stroke="#ececec" stroke-width="0.6"/>
<line x1="318.5" y1="320.94" x2="483.2" y2="320.94" stroke="#ececec" stroke-width="0.6"/>
<line x1="318.5" y1="325.84" x2="483.2" y2="325.84" stroke="#ececec" stroke-width="0.6"/>
<line x1="318.5" y1="330.74" x2="483.2" y2="330.74" stroke="#ececec" stroke-width="0.6"/>
<line x1="318.5" y1="335.64" x2="483.2" y2="335.64" stroke="#ececec" stroke-width="0.6"/>
<line x1="318.5" y1="340.54" x2="483.2" y2="340.54" stroke="#ececec" stroke-width="0.6"/>
<line x1="318.5" y1="345.44" x2="483.2" y2="345.44" stroke="#ececec" stroke-width="0.6"/>
<line x1="318.5" y1="350.35" x2="483.2" y2="350.35" stroke="#ececec" stroke-width="0.6"/>
<line x1="318.5" y1="355.25" x2="483.2" y2="355.25" stroke="#ececec" stroke-width="0.6"/>
<line x1="318.5" y1="360.15" x2="483.2" y2="360.15" stroke="#ececec" stroke-width="0.6"/>
<line x1="318.5" y1="365.05" x2="483.2" y2="365.05" stroke="#ececec" stroke-width="0.6"/>
<line x1="318.5" y1="369.95" x2="483.2" y2="369.95" stroke="#ececec" stroke-width="0.6"/>
<line x1="318.5" y1="374.85" x2="483.2" y2="374.85" stroke="#ececec" stroke-width="0.6"/>
<line x1="318.5" y1="379.75" x2="483.2" y2="379.75" stroke="#ececec" stroke-width="0.6"/>
<line x1="318.5" y1="384.65" x2="483.2" y2="384.65" stroke="#ececec" stroke-width="0.6"/>
<line x1="318.5" y1="389.55" x2="483.2" y2="389.55" stroke="#ececec" stroke-width="0.6"/>
<line x1="318.5" y1="394.45" x2="483.2" y2="394.45" stroke="#ececec" stroke-width="0.6"/>
<line x1="318.5" y1="399.35" x2="483.2" y2="399.35" stroke="#ececec" stroke-width="0.6"/>
<line x1="318.5" y1="404.25" x2="483.2" y2="404.25" stroke="#ececec" stroke-width="0.6"/>
<line x1="318.5" y1="409.15" x2="483.2" y2="409.15" stroke="#ececec" stroke-width="0.6"/>
<line x1="318.5" y1="414.05" x2="483.2" y2="414.05" stroke="#ececec" stroke-width="0.6"/>
<line x1="318.5" y1="418.95" x2="483.2" y2="418.95" stroke="#ececec" stroke-width="0.6"/>
<line x1="318.5" y1="423.85" x2="483.2" y2="423.85" stroke="#ececec" stroke-width="0.6"/>
<line x1="318.5" y1="428.75" x2="483.2" y2="428.75" stroke="#ececec" stroke-width="0.6"/>
<line x1="318.5" y1="433.65" x2="483.2" y2="433.65" stroke="#ececec" stroke-width="0.6"/>
<line x1="318.5" y1="438.55" x2="483.2" y2="438.55" stroke="#ececec" stroke-width="0.6"/>
<line x1="318.5" y1="443.45" x2="483.2" y2="443.45" stroke="#ececec" stroke-width="0.6"/>
<line x1="318.5" y1="448.36" x2="483.2" y2="448.36" stroke="#ececec" stroke-width="0.6"/>
<line x1="318.5" y1="453.26" x2="483.2" y2="453.26" stroke="#ececec" stroke-width="0.6"/>
<line x1="318.5" y1="458.16" x2="483.2" y2="458.16" stroke="#ececec" stroke-width="0.6"/>
<line x1="318.5" y1="463.06" x2="483.2" y2="463.06" stroke="#ececec" stroke-width="0.6"/>
<line x1="318.5" y1="467.96" x2="483.2" y2="467.96" stroke="#ececec" stroke-width="0.6"/>
<line x1="318.5" y1="472.86" x2="483.2" y2="472.86" stroke="#ececec" stroke-width="0.6"/>
<line x1="318.5" y1="477.76" x2="483.2" y2="477.76" stroke="#ececec" stroke-width="0.6"/>
<line x1="318.5" y1="482.66" x2="483.2" y2="482.66" stroke="#ececec" stroke-width="0.6"/>
<line x1="318.5" y1="487.56" x2="483.2" y2="487.56" stroke="#ececec" stroke-width="0.6"/>
<line x1="318.5" y1="492.46" x2="483.2" y2="492.46" stroke="#ececec" stroke-width="0.6"/>
<line x1="342.03" y1="298.4" x2="342.03" y2="495.4" stroke="#ececec" stroke-width="0.6"/>
<line x1="381.24" y1="298.4" x2="381.24" y2="495.4" stroke="#ececec" stroke-width="0.6"/>
<line x1="420.46" y1="298.4" x2="420.46" y2="495.4" stroke="#ececec" stroke-width="0.6"/>
<line x1="459.67" y1="298.4" x2="459.67" y2="495.4" stroke="#ececec" stroke-width="0.6"/>
<rect x="486.6" y="298.4" width="165.10" height="197.00" fill="#fff"/>
<line x1="486.6" y1="301.34" x2="651.7" y2="301.34" stroke="#ececec" stroke-width="0.6"/>
<line x1="486.6" y1="306.24" x2="651.7" y2="306.24" stroke="#ececec" stroke-width="0.6"/>
<line x1="486.6" y1="311.14" x2="651.7" y2="311.14" stroke="#ececec" stroke-width="0.6"/>
<line x1="486.6" y1="316.04" x2="651.7" y2="316.04" stroke="#ececec" stroke-width="0.6"/>
<line x1="486.6" y1="320.94" x2="651.7" y2="320.94" stroke="#ececec" stroke-width="0.6"/>
<line x1="486.6" y1="325.84" x2="651.7" y2="325.84" stroke="#ececec" stroke-width="0.6"/>
<line x1="486.6" y1="330.74" x2="651.7" y2="330.74" stroke="#ececec" stroke-width="0.6"/>
<line x1="486.6" y1="335.64" x2="651.7" y2="335.64" stroke="#ececec" stroke-width="0.6"/>
<line x1="486.6" y1="340.54" x2="651.7" y2="340.54" stroke="#ececec" stroke-width="0.6"/>
<line x1="486.6" y1="345.44" x2="651.7" y2="345.44" stroke="#ececec" stroke-width="0.6"/>
<line x1="486.6" y1="350.35" x2="651.7" y2="350.35" stroke="#ececec" stroke-width="0.6"/>
<line x1="486.6" y1="355.25" x2="651.7" y2="355.25" stroke="#ececec" stroke-width="0.6"/>
<line x1="486.6" y1="360.15" x2="651.7" y2="360.15" stroke="#ececec" stroke-width="0.6"/>
<line x1="486.6" y1="365.05" x2="651.7" y2="365.05" stroke="#ececec" stroke-width="0.6"/>
<line x1="486.6" y1="369.95" x2="651.7" y2="369.95" stroke="#ececec" stroke-width="0.6"/>
<line x1="486.6" y1="374.85" x2="651.7" y2="374.85" stroke="#ececec" stroke-width="0.6"/>
<line x1="486.6" y1="379.75" x2="651.7" y2="379.75" stroke="#ececec" stroke-width="0.6"/>
<line x1="486.6" y1="384.65" x2="651.7" y2="384.65" stroke="#ececec" stroke-width="0.6"/>
<line x1="486.6" y1="389.55" x2="651.7" y2="389.55" stroke="#ececec" stroke-width="0.6"/>
<line x1="486.6" y1="394.45" x2="651.7" y2="394.45" stroke="#ececec" stroke-width="0.6"/>
<line x1="486.6" y1="399.35" x2="651.7" y2="399.35" stroke="#ececec" stroke-width="0.6"/>
<line x1="486.6" y1="404.25" x2="651.7" y2="404.25" stroke="#ececec" stroke-width="0.6"/>
<line x1="486.6" y1="409.15" x2="651.7" y2="409.15" stroke="#ececec" stroke-width="0.6"/>
<line x1="486.6" y1="414.05" x2="651.7" y2="414.05" stroke="#ececec" stroke-width="0.6"/>
<line x1="486.6" y1="418.95" x2="651.7" y2="418.95" stroke="#ececec" stroke-width="0.6"/>
<line x1="486.6" y1="423.85" x2="651.7" y2="423.85" stroke="#ececec" stroke-width="0.6"/>
<line x1="486.6" y1="428.75" x2="651.7" y2="428.75" stroke="#ececec" stroke-width="0.6"/>
<line x1="486.6" y1="433.65" x2="651.7" y2="433.65" stroke="#ececec" stroke-width="0.6"/>
<line x1="486.6" y1="438.55" x2="651.7" y2="438.55" stroke="#ececec" stroke-width="0.6"/>
<line x1="486.6" y1="443.45" x2="651.7" y2="443.45" stroke="#ececec" stroke-width="0.6"/>
<line x1="486.6" y1="448.36" x2="651.7" y2="448.36" stroke="#ececec" stroke-width="0.6"/>
<line x1="486.6" y1="453.26" x2="651.7" y2="453.26" stroke="#ececec" stroke-width="0.6"/>
<line x1="486.6" y1="458.16" x2="651.7" y2="458.16" stroke="#ececec" stroke-width="0.6"/>
<line x1="486.6" y1="463.06" x2="651.7" y2="463.06" stroke="#ececec" stroke-width="0.6"/>
<line x1="486.6" y1="467.96" x2="651.7" y2="467.96" stroke="#ececec" stroke-width="0.6"/>
<line x1="486.6" y1="472.86" x2="651.7" y2="472.86" stroke="#ececec" stroke-width="0.6"/>
<line x1="486.6" y1="477.76" x2="651.7" y2="477.76" stroke="#ececec" stroke-width="0.6"/>
<line x1="486.6" y1="482.66" x2="651.7" y2="482.66" stroke="#ececec" stroke-width="0.6"/>
<line x1="486.6" y1="487.56" x2="651.7" y2="487.56" stroke="#ececec" stroke-width="0.6"/>
<line x1="486.6" y1="492.46" x2="651.7" y2="492.46" stroke="#ececec" stroke-width="0.6"/>
<line x1="510.19" y1="298.4" x2="510.19" y2="495.4" stroke="#ececec" stroke-width="0.6"/>
<line x1="549.50" y1="298.4" x2="549.50" y2="495.4" stroke="#ececec" stroke-width="0.6"/>
<line x1="588.80" y1="298.4" x2="588.80" y2="495.4" stroke="#ececec" stroke-width="0.6"/>
<line x1="628.11" y1="298.4" x2="628.11" y2="495.4" stroke="#ececec" stroke-width="0.6"/>
<line x1="651.7" y1="301.34" x2="653.9" y2="301.34" stroke="#444" stroke-width="0.5"/>
<text x="654.70" y="303.44" font-size="5.9" fill="#333" stroke="#333" stroke-width="0.18" text-anchor="start" >TYK2</text>
<line x1="651.7" y1="306.24" x2="653.9" y2="306.24" stroke="#444" stroke-width="0.5"/>
<text x="654.70" y="308.34" font-size="5.9" fill="#333" stroke="#333" stroke-width="0.18" text-anchor="start" >TPX2</text>
<line x1="651.7" y1="311.14" x2="653.9" y2="311.14" stroke="#444" stroke-width="0.5"/>
<text x="654.70" y="313.24" font-size="5.9" fill="#333" stroke="#333" stroke-width="0.18" text-anchor="start" >SNCAIP</text>
<line x1="651.7" y1="316.04" x2="653.9" y2="316.04" stroke="#444" stroke-width="0.5"/>
<text x="654.70" y="318.14" font-size="5.9" fill="#333" stroke="#333" stroke-width="0.18" text-anchor="start" >SLCO1B1</text>
<line x1="651.7" y1="320.94" x2="653.9" y2="320.94" stroke="#444" stroke-width="0.5"/>
<text x="654.70" y="323.04" font-size="5.9" fill="#333" stroke="#333" stroke-width="0.18" text-anchor="start" >SLC22A2</text>
<line x1="651.7" y1="325.84" x2="653.9" y2="325.84" stroke="#444" stroke-width="0.5"/>
<text x="654.70" y="327.94" font-size="5.9" fill="#333" stroke="#333" stroke-width="0.18" text-anchor="start" >SHOC2</text>
<line x1="651.7" y1="330.74" x2="653.9" y2="330.74" stroke="#444" stroke-width="0.5"/>
<text x="654.70" y="332.84" font-size="5.9" fill="#333" stroke="#333" stroke-width="0.18" text-anchor="start" >SHH</text>
<line x1="651.7" y1="335.64" x2="653.9" y2="335.64" stroke="#444" stroke-width="0.5"/>
<text x="654.70" y="337.74" font-size="5.9" fill="#333" stroke="#333" stroke-width="0.18" text-anchor="start" >RPS6KB1</text>
<line x1="651.7" y1="340.54" x2="653.9" y2="340.54" stroke="#444" stroke-width="0.5"/>
<text x="654.70" y="342.64" font-size="5.9" fill="#333" stroke="#333" stroke-width="0.18" text-anchor="start" >ROS1</text>
<line x1="651.7" y1="345.44" x2="653.9" y2="345.44" stroke="#444" stroke-width="0.5"/>
<text x="654.70" y="347.54" font-size="5.9" fill="#333" stroke="#333" stroke-width="0.18" text-anchor="start" >RET</text>
<line x1="651.7" y1="350.35" x2="653.9" y2="350.35" stroke="#444" stroke-width="0.5"/>
<text x="654.70" y="352.45" font-size="5.9" fill="#333" stroke="#333" stroke-width="0.18" text-anchor="start" >RB1</text>
<line x1="651.7" y1="355.25" x2="653.9" y2="355.25" stroke="#444" stroke-width="0.5"/>
<text x="654.70" y="357.35" font-size="5.9" fill="#333" stroke="#333" stroke-width="0.18" text-anchor="start" >PTPN11</text>
<line x1="651.7" y1="360.15" x2="653.9" y2="360.15" stroke="#444" stroke-width="0.5"/>
<text x="654.70" y="362.25" font-size="5.9" fill="#333" stroke="#333" stroke-width="0.18" text-anchor="start" >PSMB2</text>
<line x1="651.7" y1="365.05" x2="653.9" y2="365.05" stroke="#444" stroke-width="0.5"/>
<text x="654.70" y="367.15" font-size="5.9" fill="#333" stroke="#333" stroke-width="0.18" text-anchor="start" >NF1</text>
<line x1="651.7" y1="369.95" x2="653.9" y2="369.95" stroke="#444" stroke-width="0.5"/>
<text x="654.70" y="372.05" font-size="5.9" fill="#333" stroke="#333" stroke-width="0.18" text-anchor="start" >MGST2</text>
<line x1="651.7" y1="374.85" x2="653.9" y2="374.85" stroke="#444" stroke-width="0.5"/>
<text x="654.70" y="376.95" font-size="5.9" fill="#333" stroke="#333" stroke-width="0.18" text-anchor="start" >MAP2K4</text>
<line x1="651.7" y1="379.75" x2="653.9" y2="379.75" stroke="#444" stroke-width="0.5"/>
<text x="654.70" y="381.85" font-size="5.9" fill="#333" stroke="#333" stroke-width="0.18" text-anchor="start" >LAMA2</text>
<line x1="651.7" y1="384.65" x2="653.9" y2="384.65" stroke="#444" stroke-width="0.5"/>
<text x="654.70" y="386.75" font-size="5.9" fill="#333" stroke="#333" stroke-width="0.18" text-anchor="start" >INPP4B</text>
<line x1="651.7" y1="389.55" x2="653.9" y2="389.55" stroke="#444" stroke-width="0.5"/>
<text x="654.70" y="391.65" font-size="5.9" fill="#333" stroke="#333" stroke-width="0.18" text-anchor="start" >IL2RB</text>
<line x1="651.7" y1="394.45" x2="653.9" y2="394.45" stroke="#444" stroke-width="0.5"/>
<text x="654.70" y="396.55" font-size="5.9" fill="#333" stroke="#333" stroke-width="0.18" text-anchor="start" >IL1RAPL1</text>
<line x1="651.7" y1="399.35" x2="653.9" y2="399.35" stroke="#444" stroke-width="0.5"/>
<text x="654.70" y="401.45" font-size="5.9" fill="#333" stroke="#333" stroke-width="0.18" text-anchor="start" >FLT4</text>
<line x1="651.7" y1="404.25" x2="653.9" y2="404.25" stroke="#444" stroke-width="0.5"/>
<text x="654.70" y="406.35" font-size="5.9" fill="#333" stroke="#333" stroke-width="0.18" text-anchor="start" >FLT3</text>
<line x1="651.7" y1="409.15" x2="653.9" y2="409.15" stroke="#444" stroke-width="0.5"/>
<text x="654.70" y="411.25" font-size="5.9" fill="#333" stroke="#333" stroke-width="0.18" text-anchor="start" >FGFR4</text>
<line x1="651.7" y1="414.05" x2="653.9" y2="414.05" stroke="#444" stroke-width="0.5"/>
<text x="654.70" y="416.15" font-size="5.9" fill="#333" stroke="#333" stroke-width="0.18" text-anchor="start" >FGFR1</text>
<line x1="651.7" y1="418.95" x2="653.9" y2="418.95" stroke="#444" stroke-width="0.5"/>
<text x="654.70" y="421.05" font-size="5.9" fill="#333" stroke="#333" stroke-width="0.18" text-anchor="start" >FBXW7</text>
<line x1="651.7" y1="423.85" x2="653.9" y2="423.85" stroke="#444" stroke-width="0.5"/>
<text x="654.70" y="425.95" font-size="5.9" fill="#333" stroke="#333" stroke-width="0.18" text-anchor="start" >ERBB4</text>
<line x1="651.7" y1="428.75" x2="653.9" y2="428.75" stroke="#444" stroke-width="0.5"/>
<text x="654.70" y="430.85" font-size="5.9" fill="#333" stroke="#333" stroke-width="0.18" text-anchor="start" >EGFR−AS1</text>
<line x1="651.7" y1="433.65" x2="653.9" y2="433.65" stroke="#444" stroke-width="0.5"/>
<text x="654.70" y="435.75" font-size="5.9" fill="#333" stroke="#333" stroke-width="0.18" text-anchor="start" >EGFR</text>
<line x1="651.7" y1="438.55" x2="653.9" y2="438.55" stroke="#444" stroke-width="0.5"/>
<text x="654.70" y="440.65" font-size="5.9" fill="#333" stroke="#333" stroke-width="0.18" text-anchor="start" >DACH1</text>
<line x1="651.7" y1="443.45" x2="653.9" y2="443.45" stroke="#444" stroke-width="0.5"/>
<text x="654.70" y="445.55" font-size="5.9" fill="#333" stroke="#333" stroke-width="0.18" text-anchor="start" >CYP2B7P</text>
<line x1="651.7" y1="448.36" x2="653.9" y2="448.36" stroke="#444" stroke-width="0.5"/>
<text x="654.70" y="450.46" font-size="5.9" fill="#333" stroke="#333" stroke-width="0.18" text-anchor="start" >CYP2B6</text>
<line x1="651.7" y1="453.26" x2="653.9" y2="453.26" stroke="#444" stroke-width="0.5"/>
<text x="654.70" y="455.36" font-size="5.9" fill="#333" stroke="#333" stroke-width="0.18" text-anchor="start" >CTNNB1</text>
<line x1="651.7" y1="458.16" x2="653.9" y2="458.16" stroke="#444" stroke-width="0.5"/>
<text x="654.70" y="460.26" font-size="5.9" fill="#333" stroke="#333" stroke-width="0.18" text-anchor="start" >CSF1R</text>
<line x1="651.7" y1="463.06" x2="653.9" y2="463.06" stroke="#444" stroke-width="0.5"/>
<text x="654.70" y="465.16" font-size="5.9" fill="#333" stroke="#333" stroke-width="0.18" text-anchor="start" >CDH1</text>
<line x1="651.7" y1="467.96" x2="653.9" y2="467.96" stroke="#444" stroke-width="0.5"/>
<text x="654.70" y="470.06" font-size="5.9" fill="#333" stroke="#333" stroke-width="0.18" text-anchor="start" >CBL</text>
<line x1="651.7" y1="472.86" x2="653.9" y2="472.86" stroke="#444" stroke-width="0.5"/>
<text x="654.70" y="474.96" font-size="5.9" fill="#333" stroke="#333" stroke-width="0.18" text-anchor="start" >ATM</text>
<line x1="651.7" y1="477.76" x2="653.9" y2="477.76" stroke="#444" stroke-width="0.5"/>
<text x="654.70" y="479.86" font-size="5.9" fill="#333" stroke="#333" stroke-width="0.18" text-anchor="start" >AKT3</text>
<line x1="651.7" y1="482.66" x2="653.9" y2="482.66" stroke="#444" stroke-width="0.5"/>
<text x="654.70" y="484.76" font-size="5.9" fill="#333" stroke="#333" stroke-width="0.18" text-anchor="start" >ABL2</text>
<line x1="651.7" y1="487.56" x2="653.9" y2="487.56" stroke="#444" stroke-width="0.5"/>
<text x="654.70" y="489.66" font-size="5.9" fill="#333" stroke="#333" stroke-width="0.18" text-anchor="start" >ABL1</text>
<line x1="651.7" y1="492.46" x2="653.9" y2="492.46" stroke="#444" stroke-width="0.5"/>
<text x="654.70" y="494.56" font-size="5.9" fill="#333" stroke="#333" stroke-width="0.18" text-anchor="start" >ABCC2</text>
<rect x="302" y="498.60" width="13" height="296.20" fill="#f2f2ec"/>
<rect x="318.5" y="498.8" width="164.70" height="296.00" fill="#fff"/>
<line x1="318.5" y1="501.75" x2="483.2" y2="501.75" stroke="#ececec" stroke-width="0.6"/>
<line x1="318.5" y1="506.67" x2="483.2" y2="506.67" stroke="#ececec" stroke-width="0.6"/>
<line x1="318.5" y1="511.58" x2="483.2" y2="511.58" stroke="#ececec" stroke-width="0.6"/>
<line x1="318.5" y1="516.50" x2="483.2" y2="516.50" stroke="#ececec" stroke-width="0.6"/>
<line x1="318.5" y1="521.42" x2="483.2" y2="521.42" stroke="#ececec" stroke-width="0.6"/>
<line x1="318.5" y1="526.33" x2="483.2" y2="526.33" stroke="#ececec" stroke-width="0.6"/>
<line x1="318.5" y1="531.25" x2="483.2" y2="531.25" stroke="#ececec" stroke-width="0.6"/>
<line x1="318.5" y1="536.17" x2="483.2" y2="536.17" stroke="#ececec" stroke-width="0.6"/>
<line x1="318.5" y1="541.09" x2="483.2" y2="541.09" stroke="#ececec" stroke-width="0.6"/>
<line x1="318.5" y1="546.00" x2="483.2" y2="546.00" stroke="#ececec" stroke-width="0.6"/>
<line x1="318.5" y1="550.92" x2="483.2" y2="550.92" stroke="#ececec" stroke-width="0.6"/>
<line x1="318.5" y1="555.84" x2="483.2" y2="555.84" stroke="#ececec" stroke-width="0.6"/>
<line x1="318.5" y1="560.75" x2="483.2" y2="560.75" stroke="#ececec" stroke-width="0.6"/>
<line x1="318.5" y1="565.67" x2="483.2" y2="565.67" stroke="#ececec" stroke-width="0.6"/>
<line x1="318.5" y1="570.59" x2="483.2" y2="570.59" stroke="#ececec" stroke-width="0.6"/>
<line x1="318.5" y1="575.50" x2="483.2" y2="575.50" stroke="#ececec" stroke-width="0.6"/>
<line x1="318.5" y1="580.42" x2="483.2" y2="580.42" stroke="#ececec" stroke-width="0.6"/>
<line x1="318.5" y1="585.34" x2="483.2" y2="585.34" stroke="#ececec" stroke-width="0.6"/>
<line x1="318.5" y1="590.26" x2="483.2" y2="590.26" stroke="#ececec" stroke-width="0.6"/>
<line x1="318.5" y1="595.17" x2="483.2" y2="595.17" stroke="#ececec" stroke-width="0.6"/>
<line x1="318.5" y1="600.09" x2="483.2" y2="600.09" stroke="#ececec" stroke-width="0.6"/>
<line x1="318.5" y1="605.01" x2="483.2" y2="605.01" stroke="#ececec" stroke-width="0.6"/>
<line x1="318.5" y1="609.92" x2="483.2" y2="609.92" stroke="#ececec" stroke-width="0.6"/>
<line x1="318.5" y1="614.84" x2="483.2" y2="614.84" stroke="#ececec" stroke-width="0.6"/>
<line x1="318.5" y1="619.76" x2="483.2" y2="619.76" stroke="#ececec" stroke-width="0.6"/>
<line x1="318.5" y1="624.67" x2="483.2" y2="624.67" stroke="#ececec" stroke-width="0.6"/>
<line x1="318.5" y1="629.59" x2="483.2" y2="629.59" stroke="#ececec" stroke-width="0.6"/>
<line x1="318.5" y1="634.51" x2="483.2" y2="634.51" stroke="#ececec" stroke-width="0.6"/>
<line x1="318.5" y1="639.42" x2="483.2" y2="639.42" stroke="#ececec" stroke-width="0.6"/>
<line x1="318.5" y1="644.34" x2="483.2" y2="644.34" stroke="#ececec" stroke-width="0.6"/>
<line x1="318.5" y1="649.26" x2="483.2" y2="649.26" stroke="#ececec" stroke-width="0.6"/>
<line x1="318.5" y1="654.18" x2="483.2" y2="654.18" stroke="#ececec" stroke-width="0.6"/>
<line x1="318.5" y1="659.09" x2="483.2" y2="659.09" stroke="#ececec" stroke-width="0.6"/>
<line x1="318.5" y1="664.01" x2="483.2" y2="664.01" stroke="#ececec" stroke-width="0.6"/>
<line x1="318.5" y1="668.93" x2="483.2" y2="668.93" stroke="#ececec" stroke-width="0.6"/>
<line x1="318.5" y1="673.84" x2="483.2" y2="673.84" stroke="#ececec" stroke-width="0.6"/>
<line x1="318.5" y1="678.76" x2="483.2" y2="678.76" stroke="#ececec" stroke-width="0.6"/>
<line x1="318.5" y1="683.68" x2="483.2" y2="683.68" stroke="#ececec" stroke-width="0.6"/>
<line x1="318.5" y1="688.59" x2="483.2" y2="688.59" stroke="#ececec" stroke-width="0.6"/>
<line x1="318.5" y1="693.51" x2="483.2" y2="693.51" stroke="#ececec" stroke-width="0.6"/>
<line x1="318.5" y1="698.43" x2="483.2" y2="698.43" stroke="#ececec" stroke-width="0.6"/>
<line x1="318.5" y1="703.34" x2="483.2" y2="703.34" stroke="#ececec" stroke-width="0.6"/>
<line x1="318.5" y1="708.26" x2="483.2" y2="708.26" stroke="#ececec" stroke-width="0.6"/>
<line x1="318.5" y1="713.18" x2="483.2" y2="713.18" stroke="#ececec" stroke-width="0.6"/>
<line x1="318.5" y1="718.10" x2="483.2" y2="718.10" stroke="#ececec" stroke-width="0.6"/>
<line x1="318.5" y1="723.01" x2="483.2" y2="723.01" stroke="#ececec" stroke-width="0.6"/>
<line x1="318.5" y1="727.93" x2="483.2" y2="727.93" stroke="#ececec" stroke-width="0.6"/>
<line x1="318.5" y1="732.85" x2="483.2" y2="732.85" stroke="#ececec" stroke-width="0.6"/>
<line x1="318.5" y1="737.76" x2="483.2" y2="737.76" stroke="#ececec" stroke-width="0.6"/>
<line x1="318.5" y1="742.68" x2="483.2" y2="742.68" stroke="#ececec" stroke-width="0.6"/>
<line x1="318.5" y1="747.60" x2="483.2" y2="747.60" stroke="#ececec" stroke-width="0.6"/>
<line x1="318.5" y1="752.51" x2="483.2" y2="752.51" stroke="#ececec" stroke-width="0.6"/>
<line x1="318.5" y1="757.43" x2="483.2" y2="757.43" stroke="#ececec" stroke-width="0.6"/>
<line x1="318.5" y1="762.35" x2="483.2" y2="762.35" stroke="#ececec" stroke-width="0.6"/>
<line x1="318.5" y1="767.27" x2="483.2" y2="767.27" stroke="#ececec" stroke-width="0.6"/>
<line x1="318.5" y1="772.18" x2="483.2" y2="772.18" stroke="#ececec" stroke-width="0.6"/>
<line x1="318.5" y1="777.10" x2="483.2" y2="777.10" stroke="#ececec" stroke-width="0.6"/>
<line x1="318.5" y1="782.02" x2="483.2" y2="782.02" stroke="#ececec" stroke-width="0.6"/>
<line x1="318.5" y1="786.93" x2="483.2" y2="786.93" stroke="#ececec" stroke-width="0.6"/>
<line x1="318.5" y1="791.85" x2="483.2" y2="791.85" stroke="#ececec" stroke-width="0.6"/>
<line x1="342.03" y1="498.8" x2="342.03" y2="794.8" stroke="#ececec" stroke-width="0.6"/>
<line x1="381.24" y1="498.8" x2="381.24" y2="794.8" stroke="#ececec" stroke-width="0.6"/>
<line x1="420.46" y1="498.8" x2="420.46" y2="794.8" stroke="#ececec" stroke-width="0.6"/>
<line x1="459.67" y1="498.8" x2="459.67" y2="794.8" stroke="#ececec" stroke-width="0.6"/>
<rect x="486.6" y="498.8" width="165.10" height="296.00" fill="#fff"/>
<line x1="486.6" y1="501.75" x2="651.7" y2="501.75" stroke="#ececec" stroke-width="0.6"/>
<line x1="486.6" y1="506.67" x2="651.7" y2="506.67" stroke="#ececec" stroke-width="0.6"/>
<line x1="486.6" y1="511.58" x2="651.7" y2="511.58" stroke="#ececec" stroke-width="0.6"/>
<line x1="486.6" y1="516.50" x2="651.7" y2="516.50" stroke="#ececec" stroke-width="0.6"/>
<line x1="486.6" y1="521.42" x2="651.7" y2="521.42" stroke="#ececec" stroke-width="0.6"/>
<line x1="486.6" y1="526.33" x2="651.7" y2="526.33" stroke="#ececec" stroke-width="0.6"/>
<line x1="486.6" y1="531.25" x2="651.7" y2="531.25" stroke="#ececec" stroke-width="0.6"/>
<line x1="486.6" y1="536.17" x2="651.7" y2="536.17" stroke="#ececec" stroke-width="0.6"/>
<line x1="486.6" y1="541.09" x2="651.7" y2="541.09" stroke="#ececec" stroke-width="0.6"/>
<line x1="486.6" y1="546.00" x2="651.7" y2="546.00" stroke="#ececec" stroke-width="0.6"/>
<line x1="486.6" y1="550.92" x2="651.7" y2="550.92" stroke="#ececec" stroke-width="0.6"/>
<line x1="486.6" y1="555.84" x2="651.7" y2="555.84" stroke="#ececec" stroke-width="0.6"/>
<line x1="486.6" y1="560.75" x2="651.7" y2="560.75" stroke="#ececec" stroke-width="0.6"/>
<line x1="486.6" y1="565.67" x2="651.7" y2="565.67" stroke="#ececec" stroke-width="0.6"/>
<line x1="486.6" y1="570.59" x2="651.7" y2="570.59" stroke="#ececec" stroke-width="0.6"/>
<line x1="486.6" y1="575.50" x2="651.7" y2="575.50" stroke="#ececec" stroke-width="0.6"/>
<line x1="486.6" y1="580.42" x2="651.7" y2="580.42" stroke="#ececec" stroke-width="0.6"/>
<line x1="486.6" y1="585.34" x2="651.7" y2="585.34" stroke="#ececec" stroke-width="0.6"/>
<line x1="486.6" y1="590.26" x2="651.7" y2="590.26" stroke="#ececec" stroke-width="0.6"/>
<line x1="486.6" y1="595.17" x2="651.7" y2="595.17" stroke="#ececec" stroke-width="0.6"/>
<line x1="486.6" y1="600.09" x2="651.7" y2="600.09" stroke="#ececec" stroke-width="0.6"/>
<line x1="486.6" y1="605.01" x2="651.7" y2="605.01" stroke="#ececec" stroke-width="0.6"/>
<line x1="486.6" y1="609.92" x2="651.7" y2="609.92" stroke="#ececec" stroke-width="0.6"/>
<line x1="486.6" y1="614.84" x2="651.7" y2="614.84" stroke="#ececec" stroke-width="0.6"/>
<line x1="486.6" y1="619.76" x2="651.7" y2="619.76" stroke="#ececec" stroke-width="0.6"/>
<line x1="486.6" y1="624.67" x2="651.7" y2="624.67" stroke="#ececec" stroke-width="0.6"/>
<line x1="486.6" y1="629.59" x2="651.7" y2="629.59" stroke="#ececec" stroke-width="0.6"/>
<line x1="486.6" y1="634.51" x2="651.7" y2="634.51" stroke="#ececec" stroke-width="0.6"/>
<line x1="486.6" y1="639.42" x2="651.7" y2="639.42" stroke="#ececec" stroke-width="0.6"/>
<line x1="486.6" y1="644.34" x2="651.7" y2="644.34" stroke="#ececec" stroke-width="0.6"/>
<line x1="486.6" y1="649.26" x2="651.7" y2="649.26" stroke="#ececec" stroke-width="0.6"/>
<line x1="486.6" y1="654.18" x2="651.7" y2="654.18" stroke="#ececec" stroke-width="0.6"/>
<line x1="486.6" y1="659.09" x2="651.7" y2="659.09" stroke="#ececec" stroke-width="0.6"/>
<line x1="486.6" y1="664.01" x2="651.7" y2="664.01" stroke="#ececec" stroke-width="0.6"/>
<line x1="486.6" y1="668.93" x2="651.7" y2="668.93" stroke="#ececec" stroke-width="0.6"/>
<line x1="486.6" y1="673.84" x2="651.7" y2="673.84" stroke="#ececec" stroke-width="0.6"/>
<line x1="486.6" y1="678.76" x2="651.7" y2="678.76" stroke="#ececec" stroke-width="0.6"/>
<line x1="486.6" y1="683.68" x2="651.7" y2="683.68" stroke="#ececec" stroke-width="0.6"/>
<line x1="486.6" y1="688.59" x2="651.7" y2="688.59" stroke="#ececec" stroke-width="0.6"/>
<line x1="486.6" y1="693.51" x2="651.7" y2="693.51" stroke="#ececec" stroke-width="0.6"/>
<line x1="486.6" y1="698.43" x2="651.7" y2="698.43" stroke="#ececec" stroke-width="0.6"/>
<line x1="486.6" y1="703.34" x2="651.7" y2="703.34" stroke="#ececec" stroke-width="0.6"/>
<line x1="486.6" y1="708.26" x2="651.7" y2="708.26" stroke="#ececec" stroke-width="0.6"/>
<line x1="486.6" y1="713.18" x2="651.7" y2="713.18" stroke="#ececec" stroke-width="0.6"/>
<line x1="486.6" y1="718.10" x2="651.7" y2="718.10" stroke="#ececec" stroke-width="0.6"/>
<line x1="486.6" y1="723.01" x2="651.7" y2="723.01" stroke="#ececec" stroke-width="0.6"/>
<line x1="486.6" y1="727.93" x2="651.7" y2="727.93" stroke="#ececec" stroke-width="0.6"/>
<line x1="486.6" y1="732.85" x2="651.7" y2="732.85" stroke="#ececec" stroke-width="0.6"/>
<line x1="486.6" y1="737.76" x2="651.7" y2="737.76" stroke="#ececec" stroke-width="0.6"/>
<line x1="486.6" y1="742.68" x2="651.7" y2="742.68" stroke="#ececec" stroke-width="0.6"/>
<line x1="486.6" y1="747.60" x2="651.7" y2="747.60" stroke="#ececec" stroke-width="0.6"/>
<line x1="486.6" y1="752.51" x2="651.7" y2="752.51" stroke="#ececec" stroke-width="0.6"/>
<line x1="486.6" y1="757.43" x2="651.7" y2="757.43" stroke="#ececec" stroke-width="0.6"/>
<line x1="486.6" y1="762.35" x2="651.7" y2="762.35" stroke="#ececec" stroke-width="0.6"/>
<line x1="486.6" y1="767.27" x2="651.7" y2="767.27" stroke="#ececec" stroke-width="0.6"/>
<line x1="486.6" y1="772.18" x2="651.7" y2="772.18" stroke="#ececec" stroke-width="0.6"/>
<line x1="486.6" y1="777.10" x2="651.7" y2="777.10" stroke="#ececec" stroke-width="0.6"/>
<line x1="486.6" y1="782.02" x2="651.7" y2="782.02" stroke="#ececec" stroke-width="0.6"/>
<line x1="486.6" y1="786.93" x2="651.7" y2="786.93" stroke="#ececec" stroke-width="0.6"/>
<line x1="486.6" y1="791.85" x2="651.7" y2="791.85" stroke="#ececec" stroke-width="0.6"/>
<line x1="510.19" y1="498.8" x2="510.19" y2="794.8" stroke="#ececec" stroke-width="0.6"/>
<line x1="549.50" y1="498.8" x2="549.50" y2="794.8" stroke="#ececec" stroke-width="0.6"/>
<line x1="588.80" y1="498.8" x2="588.80" y2="794.8" stroke="#ececec" stroke-width="0.6"/>
<line x1="628.11" y1="498.8" x2="628.11" y2="794.8" stroke="#ececec" stroke-width="0.6"/>
<line x1="651.7" y1="501.75" x2="653.9" y2="501.75" stroke="#444" stroke-width="0.5"/>
<text x="654.70" y="503.85" font-size="5.9" fill="#333" stroke="#333" stroke-width="0.18" text-anchor="start" >ZC3H4</text>
<line x1="651.7" y1="506.67" x2="653.9" y2="506.67" stroke="#444" stroke-width="0.5"/>
<text x="654.70" y="508.77" font-size="5.9" fill="#333" stroke="#333" stroke-width="0.18" text-anchor="start" >ZBTB7A</text>
<line x1="651.7" y1="511.58" x2="653.9" y2="511.58" stroke="#444" stroke-width="0.5"/>
<text x="654.70" y="513.68" font-size="5.9" fill="#333" stroke="#333" stroke-width="0.18" text-anchor="start" >WWC2</text>
<line x1="651.7" y1="516.50" x2="653.9" y2="516.50" stroke="#444" stroke-width="0.5"/>
<text x="654.70" y="518.60" font-size="5.9" fill="#333" stroke="#333" stroke-width="0.18" text-anchor="start" >USP6NL</text>
<line x1="651.7" y1="521.42" x2="653.9" y2="521.42" stroke="#444" stroke-width="0.5"/>
<text x="654.70" y="523.52" font-size="5.9" fill="#333" stroke="#333" stroke-width="0.18" text-anchor="start" >TUBGCP2</text>
<line x1="651.7" y1="526.33" x2="653.9" y2="526.33" stroke="#444" stroke-width="0.5"/>
<text x="654.70" y="528.43" font-size="5.9" fill="#333" stroke="#333" stroke-width="0.18" text-anchor="start" >TNFSF13B</text>
<line x1="651.7" y1="531.25" x2="653.9" y2="531.25" stroke="#444" stroke-width="0.5"/>
<text x="654.70" y="533.35" font-size="5.9" fill="#333" stroke="#333" stroke-width="0.18" text-anchor="start" >TNFAIP2</text>
<line x1="651.7" y1="536.17" x2="653.9" y2="536.17" stroke="#444" stroke-width="0.5"/>
<text x="654.70" y="538.27" font-size="5.9" fill="#333" stroke="#333" stroke-width="0.18" text-anchor="start" >SPARC</text>
<line x1="651.7" y1="541.09" x2="653.9" y2="541.09" stroke="#444" stroke-width="0.5"/>
<text x="654.70" y="543.19" font-size="5.9" fill="#333" stroke="#333" stroke-width="0.18" text-anchor="start" >SERPINE2</text>
<line x1="651.7" y1="546.00" x2="653.9" y2="546.00" stroke="#444" stroke-width="0.5"/>
<text x="654.70" y="548.10" font-size="5.9" fill="#333" stroke="#333" stroke-width="0.18" text-anchor="start" >SBSN</text>
<line x1="651.7" y1="550.92" x2="653.9" y2="550.92" stroke="#444" stroke-width="0.5"/>
<text x="654.70" y="553.02" font-size="5.9" fill="#333" stroke="#333" stroke-width="0.18" text-anchor="start" >SARAF</text>
<line x1="651.7" y1="555.84" x2="653.9" y2="555.84" stroke="#444" stroke-width="0.5"/>
<text x="654.70" y="557.94" font-size="5.9" fill="#333" stroke="#333" stroke-width="0.18" text-anchor="start" >SAA1</text>
<line x1="651.7" y1="560.75" x2="653.9" y2="560.75" stroke="#444" stroke-width="0.5"/>
<text x="654.70" y="562.85" font-size="5.9" fill="#333" stroke="#333" stroke-width="0.18" text-anchor="start" >RPS6KA5</text>
<line x1="651.7" y1="565.67" x2="653.9" y2="565.67" stroke="#444" stroke-width="0.5"/>
<text x="654.70" y="567.77" font-size="5.9" fill="#333" stroke="#333" stroke-width="0.18" text-anchor="start" >RND3</text>
<line x1="651.7" y1="570.59" x2="653.9" y2="570.59" stroke="#444" stroke-width="0.5"/>
<text x="654.70" y="572.69" font-size="5.9" fill="#333" stroke="#333" stroke-width="0.18" text-anchor="start" >RAI14</text>
<line x1="651.7" y1="575.50" x2="653.9" y2="575.50" stroke="#444" stroke-width="0.5"/>
<text x="654.70" y="577.60" font-size="5.9" fill="#333" stroke="#333" stroke-width="0.18" text-anchor="start" >RAC1</text>
<line x1="651.7" y1="580.42" x2="653.9" y2="580.42" stroke="#444" stroke-width="0.5"/>
<text x="654.70" y="582.52" font-size="5.9" fill="#333" stroke="#333" stroke-width="0.18" text-anchor="start" >POFUT2</text>
<line x1="651.7" y1="585.34" x2="653.9" y2="585.34" stroke="#444" stroke-width="0.5"/>
<text x="654.70" y="587.44" font-size="5.9" fill="#333" stroke="#333" stroke-width="0.18" text-anchor="start" >PEA15</text>
<line x1="651.7" y1="590.26" x2="653.9" y2="590.26" stroke="#444" stroke-width="0.5"/>
<text x="654.70" y="592.36" font-size="5.9" fill="#333" stroke="#333" stroke-width="0.18" text-anchor="start" >PDSS2</text>
<line x1="651.7" y1="595.17" x2="653.9" y2="595.17" stroke="#444" stroke-width="0.5"/>
<text x="654.70" y="597.27" font-size="5.9" fill="#333" stroke="#333" stroke-width="0.18" text-anchor="start" >PARP1</text>
<line x1="651.7" y1="600.09" x2="653.9" y2="600.09" stroke="#444" stroke-width="0.5"/>
<text x="654.70" y="602.19" font-size="5.9" fill="#333" stroke="#333" stroke-width="0.18" text-anchor="start" >OPTN</text>
<line x1="651.7" y1="605.01" x2="653.9" y2="605.01" stroke="#444" stroke-width="0.5"/>
<text x="654.70" y="607.11" font-size="5.9" fill="#333" stroke="#333" stroke-width="0.18" text-anchor="start" >NXN</text>
<line x1="651.7" y1="609.92" x2="653.9" y2="609.92" stroke="#444" stroke-width="0.5"/>
<text x="654.70" y="612.02" font-size="5.9" fill="#333" stroke="#333" stroke-width="0.18" text-anchor="start" >NAP1L4</text>
<line x1="651.7" y1="614.84" x2="653.9" y2="614.84" stroke="#444" stroke-width="0.5"/>
<text x="654.70" y="616.94" font-size="5.9" fill="#333" stroke="#333" stroke-width="0.18" text-anchor="start" >MUC17</text>
<line x1="651.7" y1="619.76" x2="653.9" y2="619.76" stroke="#444" stroke-width="0.5"/>
<text x="654.70" y="621.86" font-size="5.9" fill="#333" stroke="#333" stroke-width="0.18" text-anchor="start" >MMP3</text>
<line x1="651.7" y1="624.67" x2="653.9" y2="624.67" stroke="#444" stroke-width="0.5"/>
<text x="654.70" y="626.77" font-size="5.9" fill="#333" stroke="#333" stroke-width="0.18" text-anchor="start" >MIR936</text>
<line x1="651.7" y1="629.59" x2="653.9" y2="629.59" stroke="#444" stroke-width="0.5"/>
<text x="654.70" y="631.69" font-size="5.9" fill="#333" stroke="#333" stroke-width="0.18" text-anchor="start" >MCUB</text>
<line x1="651.7" y1="634.51" x2="653.9" y2="634.51" stroke="#444" stroke-width="0.5"/>
<text x="654.70" y="636.61" font-size="5.9" fill="#333" stroke="#333" stroke-width="0.18" text-anchor="start" >MAP2K3</text>
<line x1="651.7" y1="639.42" x2="653.9" y2="639.42" stroke="#444" stroke-width="0.5"/>
<text x="654.70" y="641.52" font-size="5.9" fill="#333" stroke="#333" stroke-width="0.18" text-anchor="start" >LBR</text>
<line x1="651.7" y1="644.34" x2="653.9" y2="644.34" stroke="#444" stroke-width="0.5"/>
<text x="654.70" y="646.44" font-size="5.9" fill="#333" stroke="#333" stroke-width="0.18" text-anchor="start" >KLC1</text>
<line x1="651.7" y1="649.26" x2="653.9" y2="649.26" stroke="#444" stroke-width="0.5"/>
<text x="654.70" y="651.36" font-size="5.9" fill="#333" stroke="#333" stroke-width="0.18" text-anchor="start" >ITGA2</text>
<line x1="651.7" y1="654.18" x2="653.9" y2="654.18" stroke="#444" stroke-width="0.5"/>
<text x="654.70" y="656.28" font-size="5.9" fill="#333" stroke="#333" stroke-width="0.18" text-anchor="start" >IRF5</text>
<line x1="651.7" y1="659.09" x2="653.9" y2="659.09" stroke="#444" stroke-width="0.5"/>
<text x="654.70" y="661.19" font-size="5.9" fill="#333" stroke="#333" stroke-width="0.18" text-anchor="start" >IQGAP2</text>
<line x1="651.7" y1="664.01" x2="653.9" y2="664.01" stroke="#444" stroke-width="0.5"/>
<text x="654.70" y="666.11" font-size="5.9" fill="#333" stroke="#333" stroke-width="0.18" text-anchor="start" >IGHG1</text>
<line x1="651.7" y1="668.93" x2="653.9" y2="668.93" stroke="#444" stroke-width="0.5"/>
<text x="654.70" y="671.03" font-size="5.9" fill="#333" stroke="#333" stroke-width="0.18" text-anchor="start" >IGFBP6</text>
<line x1="651.7" y1="673.84" x2="653.9" y2="673.84" stroke="#444" stroke-width="0.5"/>
<text x="654.70" y="675.94" font-size="5.9" fill="#333" stroke="#333" stroke-width="0.18" text-anchor="start" >IGFBP4</text>
<line x1="651.7" y1="678.76" x2="653.9" y2="678.76" stroke="#444" stroke-width="0.5"/>
<text x="654.70" y="680.86" font-size="5.9" fill="#333" stroke="#333" stroke-width="0.18" text-anchor="start" >IGFBP3</text>
<line x1="651.7" y1="683.68" x2="653.9" y2="683.68" stroke="#444" stroke-width="0.5"/>
<text x="654.70" y="685.78" font-size="5.9" fill="#333" stroke="#333" stroke-width="0.18" text-anchor="start" >IGF2BP1</text>
<line x1="651.7" y1="688.59" x2="653.9" y2="688.59" stroke="#444" stroke-width="0.5"/>
<text x="654.70" y="690.69" font-size="5.9" fill="#333" stroke="#333" stroke-width="0.18" text-anchor="start" >HTATIP2</text>
<line x1="651.7" y1="693.51" x2="653.9" y2="693.51" stroke="#444" stroke-width="0.5"/>
<text x="654.70" y="695.61" font-size="5.9" fill="#333" stroke="#333" stroke-width="0.18" text-anchor="start" >HPS5</text>
<line x1="651.7" y1="698.43" x2="653.9" y2="698.43" stroke="#444" stroke-width="0.5"/>
<text x="654.70" y="700.53" font-size="5.9" fill="#333" stroke="#333" stroke-width="0.18" text-anchor="start" >HGF</text>
<line x1="651.7" y1="703.34" x2="653.9" y2="703.34" stroke="#444" stroke-width="0.5"/>
<text x="654.70" y="705.44" font-size="5.9" fill="#333" stroke="#333" stroke-width="0.18" text-anchor="start" >GSN</text>
<line x1="651.7" y1="708.26" x2="653.9" y2="708.26" stroke="#444" stroke-width="0.5"/>
<text x="654.70" y="710.36" font-size="5.9" fill="#333" stroke="#333" stroke-width="0.18" text-anchor="start" >GPR155</text>
<line x1="651.7" y1="713.18" x2="653.9" y2="713.18" stroke="#444" stroke-width="0.5"/>
<text x="654.70" y="715.28" font-size="5.9" fill="#333" stroke="#333" stroke-width="0.18" text-anchor="start" >EGFR</text>
<line x1="651.7" y1="718.10" x2="653.9" y2="718.10" stroke="#444" stroke-width="0.5"/>
<text x="654.70" y="720.20" font-size="5.9" fill="#333" stroke="#333" stroke-width="0.18" text-anchor="start" >DYNLT3</text>
<line x1="651.7" y1="723.01" x2="653.9" y2="723.01" stroke="#444" stroke-width="0.5"/>
<text x="654.70" y="725.11" font-size="5.9" fill="#333" stroke="#333" stroke-width="0.18" text-anchor="start" >CTSB</text>
<line x1="651.7" y1="727.93" x2="653.9" y2="727.93" stroke="#444" stroke-width="0.5"/>
<text x="654.70" y="730.03" font-size="5.9" fill="#333" stroke="#333" stroke-width="0.18" text-anchor="start" >CTNNB1</text>
<line x1="651.7" y1="732.85" x2="653.9" y2="732.85" stroke="#444" stroke-width="0.5"/>
<text x="654.70" y="734.95" font-size="5.9" fill="#333" stroke="#333" stroke-width="0.18" text-anchor="start" >CREG1</text>
<line x1="651.7" y1="737.76" x2="653.9" y2="737.76" stroke="#444" stroke-width="0.5"/>
<text x="654.70" y="739.86" font-size="5.9" fill="#333" stroke="#333" stroke-width="0.18" text-anchor="start" >CPA2</text>
<line x1="651.7" y1="742.68" x2="653.9" y2="742.68" stroke="#444" stroke-width="0.5"/>
<text x="654.70" y="744.78" font-size="5.9" fill="#333" stroke="#333" stroke-width="0.18" text-anchor="start" >COL17A1</text>
<line x1="651.7" y1="747.60" x2="653.9" y2="747.60" stroke="#444" stroke-width="0.5"/>
<text x="654.70" y="749.70" font-size="5.9" fill="#333" stroke="#333" stroke-width="0.18" text-anchor="start" >CNTLN</text>
<line x1="651.7" y1="752.51" x2="653.9" y2="752.51" stroke="#444" stroke-width="0.5"/>
<text x="654.70" y="754.61" font-size="5.9" fill="#333" stroke="#333" stroke-width="0.18" text-anchor="start" >CD58</text>
<line x1="651.7" y1="757.43" x2="653.9" y2="757.43" stroke="#444" stroke-width="0.5"/>
<text x="654.70" y="759.53" font-size="5.9" fill="#333" stroke="#333" stroke-width="0.18" text-anchor="start" >CD163</text>
<line x1="651.7" y1="762.35" x2="653.9" y2="762.35" stroke="#444" stroke-width="0.5"/>
<text x="654.70" y="764.45" font-size="5.9" fill="#333" stroke="#333" stroke-width="0.18" text-anchor="start" >CCND1</text>
<line x1="651.7" y1="767.27" x2="653.9" y2="767.27" stroke="#444" stroke-width="0.5"/>
<text x="654.70" y="769.37" font-size="5.9" fill="#333" stroke="#333" stroke-width="0.18" text-anchor="start" >C3</text>
<line x1="651.7" y1="772.18" x2="653.9" y2="772.18" stroke="#444" stroke-width="0.5"/>
<text x="654.70" y="774.28" font-size="5.9" fill="#333" stroke="#333" stroke-width="0.18" text-anchor="start" >BIRC3</text>
<line x1="651.7" y1="777.10" x2="653.9" y2="777.10" stroke="#444" stroke-width="0.5"/>
<text x="654.70" y="779.20" font-size="5.9" fill="#333" stroke="#333" stroke-width="0.18" text-anchor="start" >BEX3</text>
<line x1="651.7" y1="782.02" x2="653.9" y2="782.02" stroke="#444" stroke-width="0.5"/>
<text x="654.70" y="784.12" font-size="5.9" fill="#333" stroke="#333" stroke-width="0.18" text-anchor="start" >ATF3</text>
<line x1="651.7" y1="786.93" x2="653.9" y2="786.93" stroke="#444" stroke-width="0.5"/>
<text x="654.70" y="789.03" font-size="5.9" fill="#333" stroke="#333" stroke-width="0.18" text-anchor="start" >AOPEP</text>
<line x1="651.7" y1="791.85" x2="653.9" y2="791.85" stroke="#444" stroke-width="0.5"/>
<text x="654.70" y="793.95" font-size="5.9" fill="#333" stroke="#333" stroke-width="0.18" text-anchor="start" >ANGPT1</text>
<text transform="translate(311.1,396.40) rotate(-90)" font-size="7.0" fill="#1a1a1a" text-anchor="middle" stroke="#1a1a1a" stroke-width="0.18">Cancer-related genes</text>
<text transform="translate(311.1,647.50) rotate(-90)" font-size="7.0" fill="#1a1a1a" text-anchor="middle" stroke="#1a1a1a" stroke-width="0.18">Senescence-related genes</text>
<circle cx="368.1" cy="320.6" r="3.98" fill="#5395de" fill-opacity="0.9"/>
<circle cx="375.4" cy="320.6" r="3.67" fill="#901b1d" fill-opacity="0.9"/>
<circle cx="381.6" cy="320.6" r="3.47" fill="#5395de" fill-opacity="0.9"/>
<circle cx="328.5" cy="330.5" r="2.75" fill="#5395de" fill-opacity="0.9"/>
<circle cx="338.2" cy="330.5" r="2.65" fill="#5395de" fill-opacity="0.9"/>
<circle cx="340.9" cy="330.5" r="2.65" fill="#c5837c" fill-opacity="0.9"/>
<circle cx="347.3" cy="330.5" r="3.16" fill="#5395de" fill-opacity="0.9"/>
<circle cx="355.8" cy="330.5" r="2.86" fill="#5395de" fill-opacity="0.9"/>
<circle cx="379.3" cy="345.1" r="2.24" fill="#5395de" fill-opacity="0.9"/>
<circle cx="390.6" cy="345.1" r="2.24" fill="#c5837c" fill-opacity="0.9"/>
<circle cx="392.2" cy="345.1" r="2.24" fill="#5395de" fill-opacity="0.9"/>
<circle cx="453.2" cy="310.9" r="5.00" fill="#5395de" fill-opacity="0.9"/>
<circle cx="406.5" cy="330.5" r="2.65" fill="#5395de" fill-opacity="0.9"/>
<circle cx="412.5" cy="330.5" r="2.65" fill="#5395de" fill-opacity="0.9"/>
<circle cx="431.3" cy="335.4" r="3.26" fill="#c5837c" fill-opacity="0.9"/>
<circle cx="470.8" cy="360.0" r="5.00" fill="#5395de" fill-opacity="0.9"/>
<circle cx="357.0" cy="399.4" r="5.00" fill="#901b1d" fill-opacity="0.9"/>
<circle cx="329.6" cy="409.2" r="2.86" fill="#901b1d" fill-opacity="0.9"/>
<circle cx="331.5" cy="409.2" r="2.86" fill="#901b1d" fill-opacity="0.9"/>
<circle cx="333.4" cy="409.2" r="2.86" fill="#901b1d" fill-opacity="0.9"/>
<circle cx="341.8" cy="409.2" r="3.26" fill="#5395de" fill-opacity="0.9"/>
<circle cx="343.8" cy="409.2" r="3.06" fill="#5395de" fill-opacity="0.9"/>
<circle cx="345.7" cy="409.2" r="2.86" fill="#5395de" fill-opacity="0.9"/>
<circle cx="366.7" cy="414.2" r="3.26" fill="#5395de" fill-opacity="0.9"/>
<circle cx="370.0" cy="438.7" r="5.00" fill="#c5837c" fill-opacity="0.9"/>
<circle cx="366.4" cy="448.5" r="2.65" fill="#5395de" fill-opacity="0.9"/>
<circle cx="374.8" cy="448.5" r="2.65" fill="#5395de" fill-opacity="0.9"/>
<circle cx="395.1" cy="468.3" r="3.37" fill="#c5837c" fill-opacity="0.9"/>
<circle cx="370.0" cy="478.0" r="5.00" fill="#5395de" fill-opacity="0.9"/>
<circle cx="330.2" cy="482.9" r="3.37" fill="#c5837c" fill-opacity="0.9"/>
<circle cx="338.0" cy="482.9" r="4.18" fill="#5395de" fill-opacity="0.9"/>
<circle cx="352.6" cy="482.9" r="3.98" fill="#c5837c" fill-opacity="0.9"/>
<circle cx="411.9" cy="418.9" r="3.37" fill="#c5837c" fill-opacity="0.9"/>
<circle cx="434.2" cy="473.1" r="5.00" fill="#c5837c" fill-opacity="0.9"/>
<circle cx="423.6" cy="488.0" r="5.00" fill="#c5837c" fill-opacity="0.9"/>
<circle cx="465.5" cy="482.9" r="3.57" fill="#5395de" fill-opacity="0.9"/>
<circle cx="465.9" cy="488.0" r="5.00" fill="#c5837c" fill-opacity="0.9"/>
<circle cx="474.9" cy="492.8" r="2.65" fill="#5395de" fill-opacity="0.9"/>
<circle cx="509.5" cy="301.2" r="5.00" fill="#c5837c" fill-opacity="0.9"/>
<circle cx="498.2" cy="305.7" r="3.98" fill="#c5837c" fill-opacity="0.9"/>
<circle cx="509.6" cy="320.6" r="2.65" fill="#5395de" fill-opacity="0.9"/>
<circle cx="517.9" cy="320.6" r="3.98" fill="#c5837c" fill-opacity="0.9"/>
<circle cx="516.3" cy="325.5" r="2.86" fill="#5395de" fill-opacity="0.9"/>
<circle cx="535.0" cy="330.5" r="2.65" fill="#5395de" fill-opacity="0.9"/>
<circle cx="536.7" cy="330.5" r="2.65" fill="#5395de" fill-opacity="0.9"/>
<circle cx="544.5" cy="330.5" r="2.65" fill="#5395de" fill-opacity="0.9"/>
<circle cx="549.9" cy="330.5" r="2.65" fill="#5395de" fill-opacity="0.9"/>
<circle cx="551.8" cy="330.5" r="2.65" fill="#5395de" fill-opacity="0.9"/>
<circle cx="560.6" cy="330.5" r="2.65" fill="#5395de" fill-opacity="0.9"/>
<circle cx="564.5" cy="330.5" r="2.65" fill="#5395de" fill-opacity="0.9"/>
<circle cx="512.0" cy="350.0" r="5.00" fill="#901b1d" fill-opacity="0.9"/>
<circle cx="548.2" cy="350.0" r="5.00" fill="#901b1d" fill-opacity="0.9"/>
<circle cx="504.7" cy="355.0" r="3.98" fill="#c5837c" fill-opacity="0.9"/>
<circle cx="497.3" cy="364.9" r="5.00" fill="#5395de" fill-opacity="0.9"/>
<circle cx="549.9" cy="364.9" r="5.00" fill="#5395de" fill-opacity="0.9"/>
<circle cx="517.3" cy="374.8" r="5.00" fill="#5395de" fill-opacity="0.9"/>
<circle cx="511.1" cy="379.7" r="4.18" fill="#901b1d" fill-opacity="0.9"/>
<circle cx="538.0" cy="384.5" r="2.65" fill="#c5837c" fill-opacity="0.9"/>
<circle cx="504.0" cy="399.2" r="5.00" fill="#5395de" fill-opacity="0.9"/>
<circle cx="626.7" cy="305.7" r="3.98" fill="#c5837c" fill-opacity="0.9"/>
<circle cx="632.5" cy="320.6" r="3.77" fill="#5395de" fill-opacity="0.9"/>
<circle cx="642.0" cy="320.6" r="3.37" fill="#5395de" fill-opacity="0.9"/>
<circle cx="591.8" cy="340.3" r="2.86" fill="#c5837c" fill-opacity="0.9"/>
<circle cx="625.8" cy="340.3" r="2.86" fill="#c5837c" fill-opacity="0.9"/>
<circle cx="620.9" cy="350.3" r="3.77" fill="#901b1d" fill-opacity="0.9"/>
<circle cx="597.7" cy="369.9" r="4.79" fill="#901b1d" fill-opacity="0.9"/>
<circle cx="622.5" cy="384.5" r="2.65" fill="#c5837c" fill-opacity="0.9"/>
<circle cx="588.0" cy="389.3" r="2.14" fill="#c5837c" fill-opacity="0.9"/>
<circle cx="583.8" cy="394.5" r="5.00" fill="#901b1d" fill-opacity="0.9"/>
<circle cx="518.9" cy="404.3" r="3.98" fill="#5395de" fill-opacity="0.9"/>
<circle cx="502.3" cy="409.2" r="3.57" fill="#901b1d" fill-opacity="0.9"/>
<circle cx="538.5" cy="414.0" r="4.18" fill="#c5837c" fill-opacity="0.9"/>
<circle cx="546.3" cy="418.9" r="3.98" fill="#c5837c" fill-opacity="0.9"/>
<circle cx="552.7" cy="424.0" r="3.98" fill="#5395de" fill-opacity="0.9"/>
<circle cx="525.0" cy="428.9" r="5.00" fill="#5395de" fill-opacity="0.9"/>
<circle cx="539.8" cy="433.8" r="3.06" fill="#5395de" fill-opacity="0.9"/>
<circle cx="563.1" cy="453.4" r="3.37" fill="#5395de" fill-opacity="0.9"/>
<circle cx="542.8" cy="458.3" r="2.35" fill="#5395de" fill-opacity="0.9"/>
<circle cx="550.5" cy="463.4" r="3.37" fill="#c5837c" fill-opacity="0.9"/>
<circle cx="495.6" cy="482.9" r="2.96" fill="#5395de" fill-opacity="0.9"/>
<circle cx="498.9" cy="482.9" r="2.96" fill="#5395de" fill-opacity="0.9"/>
<circle cx="511.1" cy="482.9" r="2.96" fill="#5395de" fill-opacity="0.9"/>
<circle cx="495.9" cy="492.8" r="2.14" fill="#5395de" fill-opacity="0.9"/>
<circle cx="507.9" cy="492.8" r="3.16" fill="#5395de" fill-opacity="0.9"/>
<circle cx="602.4" cy="409.2" r="4.79" fill="#901b1d" fill-opacity="0.9"/>
<circle cx="618.7" cy="409.2" r="5.00" fill="#901b1d" fill-opacity="0.9"/>
<circle cx="591.5" cy="414.0" r="3.98" fill="#c5837c" fill-opacity="0.9"/>
<circle cx="603.2" cy="443.5" r="3.67" fill="#5395de" fill-opacity="0.9"/>
<circle cx="634.1" cy="458.3" r="3.06" fill="#5395de" fill-opacity="0.9"/>
<circle cx="387.7" cy="506.7" r="3.47" fill="#5395de" fill-opacity="0.9"/>
<circle cx="365.7" cy="511.5" r="5.00" fill="#5395de" fill-opacity="0.9"/>
<circle cx="341.5" cy="521.5" r="3.98" fill="#5395de" fill-opacity="0.9"/>
<circle cx="338.6" cy="536.3" r="2.35" fill="#5395de" fill-opacity="0.9"/>
<circle cx="345.3" cy="536.3" r="2.35" fill="#c5837c" fill-opacity="0.9"/>
<circle cx="378.9" cy="555.8" r="1.12" fill="#5395de" fill-opacity="0.9"/>
<circle cx="377.6" cy="590.3" r="3.06" fill="#901b1d" fill-opacity="0.9"/>
<circle cx="411.4" cy="501.8" r="2.35" fill="#5395de" fill-opacity="0.9"/>
<circle cx="427.5" cy="501.8" r="2.35" fill="#5395de" fill-opacity="0.9"/>
<circle cx="453.4" cy="501.8" r="2.35" fill="#5395de" fill-opacity="0.9"/>
<circle cx="470.0" cy="516.4" r="3.26" fill="#901b1d" fill-opacity="0.9"/>
<circle cx="445.2" cy="521.5" r="5.00" fill="#c5837c" fill-opacity="0.9"/>
<circle cx="455.8" cy="521.5" r="4.59" fill="#5395de" fill-opacity="0.9"/>
<circle cx="464.0" cy="521.5" r="4.79" fill="#5395de" fill-opacity="0.9"/>
<circle cx="459.2" cy="585.4" r="3.88" fill="#901b1d" fill-opacity="0.9"/>
<circle cx="405.4" cy="590.3" r="3.37" fill="#c5837c" fill-opacity="0.9"/>
<circle cx="415.2" cy="590.3" r="2.75" fill="#901b1d" fill-opacity="0.9"/>
<circle cx="474.3" cy="595.2" r="4.59" fill="#5395de" fill-opacity="0.9"/>
<circle cx="344.0" cy="605.0" r="5.00" fill="#901b1d" fill-opacity="0.9"/>
<circle cx="368.1" cy="619.8" r="2.75" fill="#901b1d" fill-opacity="0.9"/>
<circle cx="358.4" cy="634.7" r="1.84" fill="#5395de" fill-opacity="0.9"/>
<circle cx="385.8" cy="649.6" r="5.00" fill="#5395de" fill-opacity="0.9"/>
<circle cx="377.1" cy="659.3" r="5.00" fill="#901b1d" fill-opacity="0.9"/>
<circle cx="327.0" cy="664.2" r="2.04" fill="#5395de" fill-opacity="0.9"/>
<circle cx="346.0" cy="664.2" r="2.04" fill="#5395de" fill-opacity="0.9"/>
<circle cx="353.5" cy="664.2" r="4.59" fill="#5395de" fill-opacity="0.9"/>
<circle cx="375.8" cy="673.9" r="5.00" fill="#901b1d" fill-opacity="0.9"/>
<circle cx="394.6" cy="678.9" r="5.00" fill="#5395de" fill-opacity="0.9"/>
<circle cx="372.2" cy="693.8" r="3.77" fill="#901b1d" fill-opacity="0.9"/>
<circle cx="463.3" cy="624.8" r="5.00" fill="#5395de" fill-opacity="0.9"/>
<circle cx="411.6" cy="634.7" r="2.45" fill="#5395de" fill-opacity="0.9"/>
<circle cx="413.4" cy="634.7" r="2.45" fill="#5395de" fill-opacity="0.9"/>
<circle cx="422.9" cy="634.7" r="3.98" fill="#901b1d" fill-opacity="0.9"/>
<circle cx="430.8" cy="634.7" r="2.55" fill="#5395de" fill-opacity="0.9"/>
<circle cx="469.4" cy="664.2" r="1.73" fill="#5395de" fill-opacity="0.9"/>
<circle cx="419.6" cy="693.5" r="3.98" fill="#c5837c" fill-opacity="0.9"/>
<circle cx="393.3" cy="762.4" r="3.26" fill="#901b1d" fill-opacity="0.9"/>
<circle cx="365.7" cy="767.3" r="2.75" fill="#5395de" fill-opacity="0.9"/>
<circle cx="369.0" cy="767.3" r="2.75" fill="#5395de" fill-opacity="0.9"/>
<circle cx="393.3" cy="767.3" r="3.26" fill="#5395de" fill-opacity="0.9"/>
<circle cx="343.5" cy="782.2" r="3.88" fill="#c5837c" fill-opacity="0.9"/>
<circle cx="380.3" cy="787.2" r="3.67" fill="#5395de" fill-opacity="0.9"/>
<circle cx="428.7" cy="703.6" r="5.00" fill="#5395de" fill-opacity="0.9"/>
<circle cx="465.3" cy="703.6" r="3.06" fill="#c5837c" fill-opacity="0.9"/>
<circle cx="443.9" cy="733.1" r="5.00" fill="#5395de" fill-opacity="0.9"/>
<circle cx="408.8" cy="742.8" r="5.00" fill="#c5837c" fill-opacity="0.9"/>
<circle cx="454.5" cy="752.7" r="3.67" fill="#901b1d" fill-opacity="0.9"/>
<circle cx="417.2" cy="762.4" r="2.55" fill="#901b1d" fill-opacity="0.9"/>
<circle cx="448.1" cy="772.4" r="4.79" fill="#c5837c" fill-opacity="0.9"/>
<circle cx="415.9" cy="777.3" r="2.45" fill="#5395de" fill-opacity="0.9"/>
<circle cx="446.9" cy="782.2" r="5.00" fill="#c5837c" fill-opacity="0.9"/>
<circle cx="505.3" cy="521.5" r="3.57" fill="#5395de" fill-opacity="0.9"/>
<circle cx="508.2" cy="521.5" r="3.77" fill="#901b1d" fill-opacity="0.9"/>
<circle cx="564.1" cy="526.4" r="3.06" fill="#5395de" fill-opacity="0.9"/>
<circle cx="517.0" cy="531.1" r="5.00" fill="#c5837c" fill-opacity="0.9"/>
<circle cx="546.9" cy="531.1" r="5.00" fill="#c5837c" fill-opacity="0.9"/>
<circle cx="543.1" cy="541.2" r="5.00" fill="#5395de" fill-opacity="0.9"/>
<circle cx="545.4" cy="551.2" r="2.96" fill="#901b1d" fill-opacity="0.9"/>
<circle cx="554.0" cy="551.2" r="2.96" fill="#901b1d" fill-opacity="0.9"/>
<circle cx="560.0" cy="551.2" r="2.96" fill="#901b1d" fill-opacity="0.9"/>
<circle cx="518.9" cy="560.9" r="5.00" fill="#901b1d" fill-opacity="0.9"/>
<circle cx="535.7" cy="565.8" r="4.79" fill="#c5837c" fill-opacity="0.9"/>
<circle cx="543.1" cy="570.7" r="5.00" fill="#c5837c" fill-opacity="0.9"/>
<circle cx="516.0" cy="575.7" r="3.06" fill="#c5837c" fill-opacity="0.9"/>
<circle cx="553.4" cy="580.4" r="5.00" fill="#5395de" fill-opacity="0.9"/>
<circle cx="511.4" cy="590.3" r="2.75" fill="#901b1d" fill-opacity="0.9"/>
<circle cx="523.8" cy="590.3" r="3.26" fill="#c5837c" fill-opacity="0.9"/>
<circle cx="588.2" cy="521.5" r="5.00" fill="#5395de" fill-opacity="0.9"/>
<circle cx="598.9" cy="521.5" r="5.00" fill="#901b1d" fill-opacity="0.9"/>
<circle cx="623.5" cy="521.5" r="4.59" fill="#5395de" fill-opacity="0.9"/>
<circle cx="638.4" cy="526.4" r="5.00" fill="#901b1d" fill-opacity="0.9"/>
<circle cx="588.2" cy="531.1" r="5.00" fill="#c5837c" fill-opacity="0.9"/>
<circle cx="597.4" cy="541.0" r="2.96" fill="#c5837c" fill-opacity="0.9"/>
<circle cx="613.2" cy="546.0" r="2.04" fill="#5395de" fill-opacity="0.9"/>
<circle cx="620.9" cy="546.0" r="2.04" fill="#901b1d" fill-opacity="0.9"/>
<circle cx="613.6" cy="555.8" r="3.57" fill="#5395de" fill-opacity="0.9"/>
<circle cx="592.9" cy="565.8" r="3.06" fill="#5395de" fill-opacity="0.9"/>
<circle cx="601.8" cy="565.8" r="4.79" fill="#c5837c" fill-opacity="0.9"/>
<circle cx="599.9" cy="560.6" r="4.79" fill="#901b1d" fill-opacity="0.9"/>
<circle cx="634.5" cy="570.7" r="4.79" fill="#c5837c" fill-opacity="0.9"/>
<circle cx="601.1" cy="585.4" r="3.98" fill="#901b1d" fill-opacity="0.9"/>
<circle cx="582.2" cy="590.3" r="4.79" fill="#5395de" fill-opacity="0.9"/>
<circle cx="590.2" cy="590.3" r="4.79" fill="#5395de" fill-opacity="0.9"/>
<circle cx="514.4" cy="600.1" r="4.79" fill="#c5837c" fill-opacity="0.9"/>
<circle cx="516.6" cy="610.2" r="5.00" fill="#5395de" fill-opacity="0.9"/>
<circle cx="543.7" cy="614.9" r="2.04" fill="#5395de" fill-opacity="0.9"/>
<circle cx="561.3" cy="629.5" r="5.00" fill="#5395de" fill-opacity="0.9"/>
<circle cx="558.0" cy="634.7" r="3.06" fill="#5395de" fill-opacity="0.9"/>
<circle cx="496.3" cy="634.7" r="2.65" fill="#5395de" fill-opacity="0.9"/>
<circle cx="501.7" cy="634.7" r="2.65" fill="#901b1d" fill-opacity="0.9"/>
<circle cx="521.7" cy="639.5" r="3.88" fill="#5395de" fill-opacity="0.9"/>
<circle cx="523.2" cy="654.3" r="3.67" fill="#c5837c" fill-opacity="0.9"/>
<circle cx="499.8" cy="659.3" r="5.00" fill="#901b1d" fill-opacity="0.9"/>
<circle cx="496.9" cy="669.0" r="3.98" fill="#c5837c" fill-opacity="0.9"/>
<circle cx="549.6" cy="688.7" r="2.14" fill="#c5837c" fill-opacity="0.9"/>
<circle cx="510.5" cy="693.8" r="3.37" fill="#901b1d" fill-opacity="0.9"/>
<circle cx="581.2" cy="619.8" r="2.35" fill="#901b1d" fill-opacity="0.9"/>
<circle cx="602.4" cy="634.7" r="2.75" fill="#5395de" fill-opacity="0.9"/>
<circle cx="615.7" cy="634.7" r="1.33" fill="#5395de" fill-opacity="0.9"/>
<circle cx="634.7" cy="634.7" r="1.02" fill="#5395de" fill-opacity="0.9"/>
<circle cx="577.2" cy="639.5" r="5.00" fill="#5395de" fill-opacity="0.9"/>
<circle cx="592.5" cy="644.4" r="3.67" fill="#901b1d" fill-opacity="0.9"/>
<circle cx="643.8" cy="649.3" r="3.98" fill="#5395de" fill-opacity="0.9"/>
<circle cx="574.7" cy="654.3" r="3.57" fill="#c5837c" fill-opacity="0.9"/>
<circle cx="582.8" cy="664.2" r="1.73" fill="#5395de" fill-opacity="0.9"/>
<circle cx="589.9" cy="664.2" r="4.59" fill="#5395de" fill-opacity="0.9"/>
<circle cx="597.0" cy="664.2" r="1.73" fill="#5395de" fill-opacity="0.9"/>
<circle cx="633.8" cy="664.2" r="5.00" fill="#5395de" fill-opacity="0.9"/>
<circle cx="629.3" cy="683.5" r="3.98" fill="#5395de" fill-opacity="0.9"/>
<circle cx="535.9" cy="698.5" r="3.77" fill="#5395de" fill-opacity="0.9"/>
<circle cx="547.3" cy="708.4" r="3.47" fill="#5395de" fill-opacity="0.9"/>
<circle cx="553.5" cy="713.3" r="3.47" fill="#5395de" fill-opacity="0.9"/>
<circle cx="554.0" cy="713.3" r="3.37" fill="#5395de" fill-opacity="0.9"/>
<circle cx="503.1" cy="718.2" r="2.45" fill="#c5837c" fill-opacity="0.9"/>
<circle cx="514.0" cy="723.0" r="3.47" fill="#5395de" fill-opacity="0.9"/>
<circle cx="518.6" cy="723.0" r="2.45" fill="#5395de" fill-opacity="0.9"/>
<circle cx="563.5" cy="723.0" r="2.45" fill="#5395de" fill-opacity="0.9"/>
<circle cx="539.6" cy="728.2" r="3.37" fill="#5395de" fill-opacity="0.9"/>
<circle cx="517.3" cy="737.9" r="5.00" fill="#5395de" fill-opacity="0.9"/>
<circle cx="501.8" cy="747.8" r="5.00" fill="#5395de" fill-opacity="0.9"/>
<circle cx="513.7" cy="747.8" r="3.47" fill="#5395de" fill-opacity="0.9"/>
<circle cx="550.5" cy="747.8" r="3.67" fill="#5395de" fill-opacity="0.9"/>
<circle cx="522.8" cy="757.6" r="5.00" fill="#5395de" fill-opacity="0.9"/>
<circle cx="546.0" cy="757.6" r="5.00" fill="#5395de" fill-opacity="0.9"/>
<circle cx="508.9" cy="787.0" r="5.00" fill="#5395de" fill-opacity="0.9"/>
<circle cx="539.3" cy="791.8" r="3.98" fill="#901b1d" fill-opacity="0.9"/>
<circle cx="585.4" cy="718.2" r="2.65" fill="#c5837c" fill-opacity="0.9"/>
<circle cx="594.0" cy="762.4" r="2.55" fill="#5395de" fill-opacity="0.9"/>
<circle cx="581.9" cy="772.4" r="5.00" fill="#c5837c" fill-opacity="0.9"/>
<circle cx="500.0" cy="315.7" r="3.1" fill="#5395de"/>
<g transform="translate(500.0,315.7)"><circle r="2.75" fill="none" stroke="#e1213a" stroke-width="1.1"/><path d="M-2.23,-2.23 L2.23,2.23 M-2.23,2.23 L2.23,-2.23" stroke="#e1213a" stroke-width="1.0"/></g>
<circle cx="392.9" cy="614.9" r="2.4" fill="#5395de"/>
<g transform="translate(392.9,614.9)"><circle r="2.05" fill="none" stroke="#e1213a" stroke-width="1.1"/><path d="M-1.73,-1.73 L1.73,1.73 M-1.73,1.73 L1.73,-1.73" stroke="#e1213a" stroke-width="1.0"/></g>
<circle cx="540.9" cy="614.9" r="2.4" fill="#5395de"/>
<g transform="translate(540.9,614.9)"><circle r="2.05" fill="none" stroke="#e1213a" stroke-width="1.1"/><path d="M-1.73,-1.73 L1.73,1.73 M-1.73,1.73 L1.73,-1.73" stroke="#e1213a" stroke-width="1.0"/></g>
<circle cx="547.7" cy="614.9" r="2.4" fill="#5395de"/>
<g transform="translate(547.7,614.9)"><circle r="2.05" fill="none" stroke="#e1213a" stroke-width="1.1"/><path d="M-1.73,-1.73 L1.73,1.73 M-1.73,1.73 L1.73,-1.73" stroke="#e1213a" stroke-width="1.0"/></g>
<line x1="494.0" y1="330.6" x2="496.95" y2="323.66" stroke="#111" stroke-width="0.8"/>
<path d="M498.6,319.8 L498.98,324.53 L494.93,322.80 Z" fill="#111"/>
<line x1="400.0" y1="600.2" x2="396.86" y2="606.99" stroke="#111" stroke-width="0.8"/>
<path d="M395.1,610.8 L394.87,606.06 L398.86,607.91 Z" fill="#111"/>
<line x1="545.8" y1="601.1" x2="543.11" y2="607.16" stroke="#111" stroke-width="0.8"/>
<path d="M541.4,611.0 L541.10,606.27 L545.12,608.06 Z" fill="#111"/>
<line x1="553.8" y1="601.1" x2="550.69" y2="607.25" stroke="#111" stroke-width="0.8"/>
<path d="M548.8,611.0 L548.73,606.26 L552.66,608.24 Z" fill="#111"/>
<rect x="318.5" y="298.4" width="164.70" height="197.00" fill="none" stroke="#8c8c8c" stroke-width="1"/>
<rect x="486.6" y="298.4" width="165.10" height="197.00" fill="none" stroke="#8c8c8c" stroke-width="1"/>
<rect x="318.5" y="498.8" width="164.70" height="296.00" fill="none" stroke="#8c8c8c" stroke-width="1"/>
<rect x="486.6" y="498.8" width="165.10" height="296.00" fill="none" stroke="#8c8c8c" stroke-width="1"/>
<line x1="342.03" y1="794.8" x2="342.03" y2="797" stroke="#444" stroke-width="0.6"/>
<text x="342.03" y="804.60" font-size="7" fill="#1a1a1a" stroke="#1a1a1a" stroke-width="0.18" text-anchor="middle" >DN1</text>
<line x1="381.24" y1="794.8" x2="381.24" y2="797" stroke="#444" stroke-width="0.6"/>
<text x="381.24" y="804.60" font-size="7" fill="#1a1a1a" stroke="#1a1a1a" stroke-width="0.18" text-anchor="middle" >DN2</text>
<line x1="420.46" y1="794.8" x2="420.46" y2="797" stroke="#444" stroke-width="0.6"/>
<text x="420.46" y="804.60" font-size="7" fill="#1a1a1a" stroke="#1a1a1a" stroke-width="0.18" text-anchor="middle" >DN3</text>
<line x1="459.67" y1="794.8" x2="459.67" y2="797" stroke="#444" stroke-width="0.6"/>
<text x="459.67" y="804.60" font-size="7" fill="#1a1a1a" stroke="#1a1a1a" stroke-width="0.18" text-anchor="middle" >DN4</text>
<line x1="510.19" y1="794.8" x2="510.19" y2="797" stroke="#444" stroke-width="0.6"/>
<text x="510.19" y="804.60" font-size="7" fill="#1a1a1a" stroke="#1a1a1a" stroke-width="0.18" text-anchor="middle" >DN1</text>
<line x1="549.50" y1="794.8" x2="549.50" y2="797" stroke="#444" stroke-width="0.6"/>
<text x="549.50" y="804.60" font-size="7" fill="#1a1a1a" stroke="#1a1a1a" stroke-width="0.18" text-anchor="middle" >DN2</text>
<line x1="588.80" y1="794.8" x2="588.80" y2="797" stroke="#444" stroke-width="0.6"/>
<text x="588.80" y="804.60" font-size="7" fill="#1a1a1a" stroke="#1a1a1a" stroke-width="0.18" text-anchor="middle" >DN3</text>
<line x1="628.11" y1="794.8" x2="628.11" y2="797" stroke="#444" stroke-width="0.6"/>
<text x="628.11" y="804.60" font-size="7" fill="#1a1a1a" stroke="#1a1a1a" stroke-width="0.18" text-anchor="middle" >DN4</text>
</svg></body></html>
